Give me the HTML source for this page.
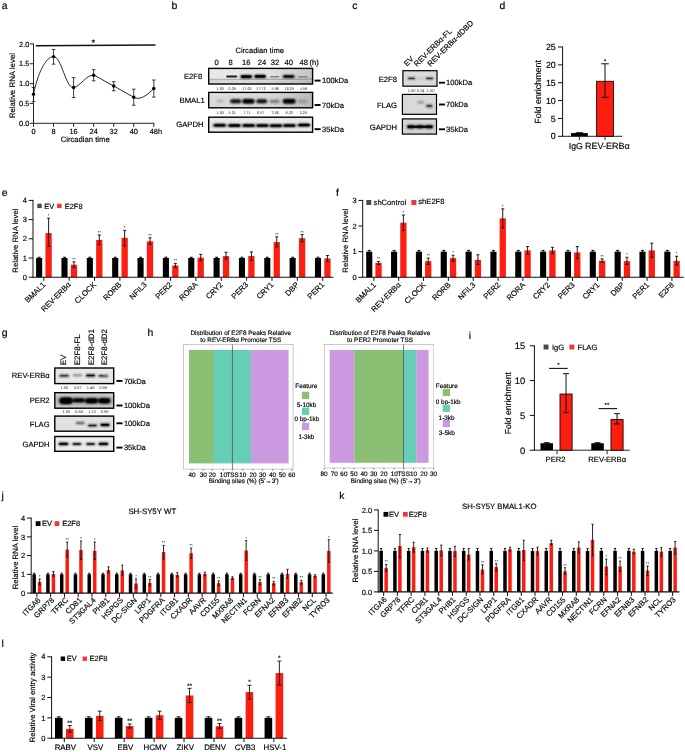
<!DOCTYPE html>
<html><head><meta charset="utf-8"><title>Figure</title>
<style>html,body{margin:0;padding:0;background:#fff}svg{display:block;opacity:0.999}text{font-family:"Liberation Sans",sans-serif}</style>
</head><body>
<svg width="685" height="752" viewBox="0 0 685 752" font-family="'Liberation Sans', sans-serif" text-rendering="geometricPrecision">
<defs>
<filter id="bl1" x="-30%" y="-400%" width="160%" height="900%"><feGaussianBlur stdDeviation="0.6"/></filter>
<filter id="bl2" x="-30%" y="-400%" width="160%" height="900%"><feGaussianBlur stdDeviation="0.85"/></filter>
<filter id="bl3" x="-30%" y="-400%" width="160%" height="900%"><feGaussianBlur stdDeviation="1.15"/></filter>
<filter id="bl4" x="-30%" y="-400%" width="160%" height="900%"><feGaussianBlur stdDeviation="1.8"/></filter>
<linearGradient id="gr1" x1="0" x2="1" y1="0" y2="0"><stop offset="0" stop-color="#000" stop-opacity="0"/><stop offset="0.55" stop-color="#000" stop-opacity="0.02"/><stop offset="1" stop-color="#000" stop-opacity="0.16"/></linearGradient>
</defs>
<rect x="0" y="0" width="685" height="752" fill="#fff"/>
<text x="1.7" y="8.9" font-size="10.4" text-anchor="start" fill="#000" stroke="#000" stroke-width="0.16">a</text>
<text x="171.5" y="8.7" font-size="10.4" text-anchor="start" fill="#000" stroke="#000" stroke-width="0.16">b</text>
<text x="352.3" y="8.8" font-size="10.4" text-anchor="start" fill="#000" stroke="#000" stroke-width="0.16">c</text>
<text x="499.6" y="8.8" font-size="10.4" text-anchor="start" fill="#000" stroke="#000" stroke-width="0.16">d</text>
<text x="1.75" y="195.7" font-size="10.4" text-anchor="start" fill="#000" stroke="#000" stroke-width="0.16">e</text>
<text x="335.9" y="195.6" font-size="10.4" text-anchor="start" fill="#000" stroke="#000" stroke-width="0.16">f</text>
<text x="1.75" y="336.2" font-size="10.4" text-anchor="start" fill="#000" stroke="#000" stroke-width="0.16">g</text>
<text x="147.4" y="336.2" font-size="10.4" text-anchor="start" fill="#000" stroke="#000" stroke-width="0.16">h</text>
<text x="468.7" y="339" font-size="10.4" text-anchor="start" fill="#000" stroke="#000" stroke-width="0.16">i</text>
<text x="1.6" y="498.9" font-size="10.4" text-anchor="start" fill="#000" stroke="#000" stroke-width="0.16">j</text>
<text x="339.3" y="498.9" font-size="10.4" text-anchor="start" fill="#000" stroke="#000" stroke-width="0.16">k</text>
<text x="1.45" y="647" font-size="10.4" text-anchor="start" fill="#000" stroke="#000" stroke-width="0.16">l</text>
<line x1="33.5" y1="43.4" x2="33.5" y2="123.8" stroke="#262626" stroke-width="1"/>
<line x1="29.9" y1="123.3" x2="33.5" y2="123.3" stroke="#262626" stroke-width="1"/>
<text x="29.4" y="125.95" font-size="7.4" text-anchor="end" fill="#000" stroke="#000" stroke-width="0.16">0.0</text>
<line x1="29.9" y1="103.45" x2="33.5" y2="103.45" stroke="#262626" stroke-width="1"/>
<text x="29.4" y="106.1" font-size="7.4" text-anchor="end" fill="#000" stroke="#000" stroke-width="0.16">0.5</text>
<line x1="29.9" y1="83.6" x2="33.5" y2="83.6" stroke="#262626" stroke-width="1"/>
<text x="29.4" y="86.25" font-size="7.4" text-anchor="end" fill="#000" stroke="#000" stroke-width="0.16">1.0</text>
<line x1="29.9" y1="63.75" x2="33.5" y2="63.75" stroke="#262626" stroke-width="1"/>
<text x="29.4" y="66.4" font-size="7.4" text-anchor="end" fill="#000" stroke="#000" stroke-width="0.16">1.5</text>
<line x1="29.9" y1="43.9" x2="33.5" y2="43.9" stroke="#262626" stroke-width="1"/>
<text x="29.4" y="46.55" font-size="7.4" text-anchor="end" fill="#000" stroke="#000" stroke-width="0.16">2.0</text>
<line x1="33" y1="123.3" x2="154.4" y2="123.3" stroke="#262626" stroke-width="1"/>
<line x1="33.5" y1="123.3" x2="33.5" y2="126.9" stroke="#262626" stroke-width="1"/>
<text x="33.5" y="134" font-size="7.4" text-anchor="middle" fill="#000" stroke="#000" stroke-width="0.16">0</text>
<line x1="53.55" y1="123.3" x2="53.55" y2="126.9" stroke="#262626" stroke-width="1"/>
<text x="53.55" y="134" font-size="7.4" text-anchor="middle" fill="#000" stroke="#000" stroke-width="0.16">8</text>
<line x1="73.6" y1="123.3" x2="73.6" y2="126.9" stroke="#262626" stroke-width="1"/>
<text x="73.6" y="134" font-size="7.4" text-anchor="middle" fill="#000" stroke="#000" stroke-width="0.16">16</text>
<line x1="93.65" y1="123.3" x2="93.65" y2="126.9" stroke="#262626" stroke-width="1"/>
<text x="93.65" y="134" font-size="7.4" text-anchor="middle" fill="#000" stroke="#000" stroke-width="0.16">24</text>
<line x1="113.7" y1="123.3" x2="113.7" y2="126.9" stroke="#262626" stroke-width="1"/>
<text x="113.7" y="134" font-size="7.4" text-anchor="middle" fill="#000" stroke="#000" stroke-width="0.16">32</text>
<line x1="133.75" y1="123.3" x2="133.75" y2="126.9" stroke="#262626" stroke-width="1"/>
<text x="133.75" y="134" font-size="7.4" text-anchor="middle" fill="#000" stroke="#000" stroke-width="0.16">40</text>
<line x1="153.8" y1="123.3" x2="153.8" y2="126.9" stroke="#262626" stroke-width="1"/>
<text x="149.68" y="134" font-size="7.4" text-anchor="start" fill="#000" stroke="#000" stroke-width="0.16">48h</text>
<text x="85.2" y="142" font-size="7.7" text-anchor="middle" fill="#000" stroke="#000" stroke-width="0.16">Circadian time</text>
<text x="15.14" y="85.6" font-size="7.9" text-anchor="middle" fill="#000" transform="rotate(-90 15.14 85.6)" stroke="#000" stroke-width="0.16">Relative RNA level</text>
<path d="M33.5 94.32 C37.5 74.32 45.55 56.6 53.55 56.6 C61.55 56.6 65.6 88.07 73.6 87.57 C79.6 87.07 86.65 74.26 93.65 75.26 C96.65 75.86 99.65 78.66 113.7 85.98 L133.75 97.3 C139.75 100.7 146.8 95.56 153.8 88.56" fill="none" stroke="#111" stroke-width="0.9"/>
<line x1="33.5" y1="87.57" x2="33.5" y2="101.46" stroke="#111" stroke-width="0.8"/>
<line x1="31.7" y1="87.57" x2="35.3" y2="87.57" stroke="#111" stroke-width="0.8"/>
<line x1="31.7" y1="101.46" x2="35.3" y2="101.46" stroke="#111" stroke-width="0.8"/>
<circle cx="33.5" cy="94.32" r="1.7" fill="#000"/>
<line x1="53.55" y1="49.46" x2="53.55" y2="64.15" stroke="#111" stroke-width="0.8"/>
<line x1="51.75" y1="49.46" x2="55.35" y2="49.46" stroke="#111" stroke-width="0.8"/>
<line x1="51.75" y1="64.15" x2="55.35" y2="64.15" stroke="#111" stroke-width="0.8"/>
<circle cx="53.55" cy="56.6" r="1.7" fill="#000"/>
<line x1="73.6" y1="77.64" x2="73.6" y2="97.49" stroke="#111" stroke-width="0.8"/>
<line x1="71.8" y1="77.64" x2="75.4" y2="77.64" stroke="#111" stroke-width="0.8"/>
<line x1="71.8" y1="97.49" x2="75.4" y2="97.49" stroke="#111" stroke-width="0.8"/>
<circle cx="73.6" cy="87.57" r="1.7" fill="#000"/>
<line x1="93.65" y1="69.7" x2="93.65" y2="80.82" stroke="#111" stroke-width="0.8"/>
<line x1="91.85" y1="69.7" x2="95.45" y2="69.7" stroke="#111" stroke-width="0.8"/>
<line x1="91.85" y1="80.82" x2="95.45" y2="80.82" stroke="#111" stroke-width="0.8"/>
<circle cx="93.65" cy="75.26" r="1.7" fill="#000"/>
<line x1="113.7" y1="81.61" x2="113.7" y2="90.75" stroke="#111" stroke-width="0.8"/>
<line x1="111.9" y1="81.61" x2="115.5" y2="81.61" stroke="#111" stroke-width="0.8"/>
<line x1="111.9" y1="90.75" x2="115.5" y2="90.75" stroke="#111" stroke-width="0.8"/>
<circle cx="113.7" cy="85.98" r="1.7" fill="#000"/>
<line x1="133.75" y1="89.16" x2="133.75" y2="105.24" stroke="#111" stroke-width="0.8"/>
<line x1="131.95" y1="89.16" x2="135.55" y2="89.16" stroke="#111" stroke-width="0.8"/>
<line x1="131.95" y1="105.24" x2="135.55" y2="105.24" stroke="#111" stroke-width="0.8"/>
<circle cx="133.75" cy="97.3" r="1.7" fill="#000"/>
<line x1="153.8" y1="80.03" x2="153.8" y2="97.1" stroke="#111" stroke-width="0.8"/>
<line x1="152" y1="80.03" x2="155.6" y2="80.03" stroke="#111" stroke-width="0.8"/>
<line x1="152" y1="97.1" x2="155.6" y2="97.1" stroke="#111" stroke-width="0.8"/>
<circle cx="153.8" cy="88.56" r="1.7" fill="#000"/>
<line x1="35.8" y1="45.8" x2="155.5" y2="45.05" stroke="#111" stroke-width="1.4"/>
<text x="93.4" y="46" font-size="9.5" text-anchor="middle" fill="#000" stroke="#000" stroke-width="0.16">*</text>
<text x="259.7" y="53" font-size="7.6" text-anchor="middle" fill="#000" stroke="#000" stroke-width="0.16">Circadian time</text>
<text x="216.5" y="65.2" font-size="7.6" text-anchor="middle" fill="#000" stroke="#000" stroke-width="0.16">0</text>
<text x="230.5" y="65.2" font-size="7.6" text-anchor="middle" fill="#000" stroke="#000" stroke-width="0.16">8</text>
<text x="246.3" y="65.2" font-size="7.6" text-anchor="middle" fill="#000" stroke="#000" stroke-width="0.16">16</text>
<text x="262" y="65.2" font-size="7.6" text-anchor="middle" fill="#000" stroke="#000" stroke-width="0.16">24</text>
<text x="274.9" y="65.2" font-size="7.6" text-anchor="middle" fill="#000" stroke="#000" stroke-width="0.16">32</text>
<text x="288.7" y="65.2" font-size="7.6" text-anchor="middle" fill="#000" stroke="#000" stroke-width="0.16">40</text>
<text x="303.8" y="65.2" font-size="7.6" text-anchor="middle" fill="#000" stroke="#000" stroke-width="0.16">48</text>
<text x="309.6" y="65.2" font-size="7.6" text-anchor="start" fill="#000" stroke="#000" stroke-width="0.16">(h)</text>
<clipPath id="cpb1"><rect x="208.7" y="68.4" width="103.9" height="15.6"/></clipPath>
<rect x="208.7" y="68.4" width="103.9" height="15.6" fill="#e8e8e8"/>
<g clip-path="url(#cpb1)">
<rect x="206" y="78.7" width="110" height="1.2" fill="#000" opacity="0.26" filter="url(#bl1)" transform="rotate(-0.25 260 79)"/>
<rect x="206" y="80.5" width="110" height="5" fill="#000" opacity="0.07" filter="url(#bl2)"/>
<rect x="208" y="66" width="106" height="20" fill="url(#gr1)"/>
<rect x="226.2" y="75.55" width="11" height="1.9" rx="0.95" fill="#000" opacity="0.88" filter="url(#bl1)"/>
<rect x="240.3" y="74.9" width="12" height="3.4" rx="1.7" fill="#000" opacity="1" filter="url(#bl2)"/>
<rect x="241.1" y="75.5" width="10.4" height="2.2" rx="1.1" fill="#000" opacity="1" filter="url(#bl1)"/>
<rect x="254.2" y="74.7" width="12" height="3.4" rx="1.7" fill="#000" opacity="1" filter="url(#bl2)"/>
<rect x="255" y="75.3" width="10.4" height="2.2" rx="1.1" fill="#000" opacity="1" filter="url(#bl1)"/>
<rect x="269.8" y="76.1" width="9.6" height="1.4" rx="0.7" fill="#000" opacity="0.42" filter="url(#bl1)"/>
<rect x="282.7" y="75.1" width="12" height="2.8" rx="1.4" fill="#000" opacity="1" filter="url(#bl2)"/>
<rect x="283.7" y="75.7" width="10" height="1.6" rx="0.8" fill="#000" opacity="0.9" filter="url(#bl1)"/>
<rect x="297.8" y="76" width="10" height="1.4" rx="0.7" fill="#000" opacity="0.34" filter="url(#bl1)"/>
</g>
<rect x="208.7" y="68.4" width="103.9" height="15.6" fill="none" stroke="#000" stroke-width="1.4"/>
<text x="220.3" y="90.2" font-size="3.8" text-anchor="middle" fill="#2a2a2a">1.00</text>
<text x="232.3" y="90.2" font-size="3.8" text-anchor="middle" fill="#2a2a2a">0.29</text>
<text x="246.9" y="90.2" font-size="3.8" text-anchor="middle" fill="#2a2a2a">17.62</text>
<text x="260.8" y="90.2" font-size="3.8" text-anchor="middle" fill="#2a2a2a">17.72</text>
<text x="275.2" y="90.2" font-size="3.8" text-anchor="middle" fill="#2a2a2a">5.88</text>
<text x="289.3" y="90.2" font-size="3.8" text-anchor="middle" fill="#2a2a2a">16.25</text>
<text x="303.4" y="90.2" font-size="3.8" text-anchor="middle" fill="#2a2a2a">4.58</text>
<clipPath id="cpb2"><rect x="208.7" y="92.4" width="103.9" height="15.4"/></clipPath>
<rect x="208.7" y="92.4" width="103.9" height="15.4" fill="#dadada"/>
<g clip-path="url(#cpb2)">
<rect x="206" y="90" width="110" height="5.5" fill="#fff" opacity="0.25" filter="url(#bl3)"/>
<rect x="208" y="90" width="106" height="20" fill="url(#gr1)"/>
<rect x="215.9" y="99.6" width="7.6" height="2.8" rx="1.4" fill="#000" opacity="0.18" filter="url(#bl3)"/>
<rect x="230.1" y="99.3" width="11.2" height="4" rx="2" fill="#000" opacity="0.9" filter="url(#bl3)"/>
<rect x="231.1" y="100.3" width="9.2" height="2" rx="1" fill="#000" opacity="0.6" filter="url(#bl2)"/>
<rect x="242.3" y="99" width="12.2" height="4.6" rx="2.3" fill="#000" opacity="1" filter="url(#bl3)"/>
<rect x="243.2" y="99.9" width="10.4" height="2.8" rx="1.4" fill="#000" opacity="0.9" filter="url(#bl2)"/>
<rect x="256.2" y="99.2" width="11" height="4" rx="2" fill="#000" opacity="0.9" filter="url(#bl3)"/>
<rect x="257.2" y="100.2" width="9" height="2" rx="1" fill="#000" opacity="0.6" filter="url(#bl2)"/>
<rect x="269.6" y="99.8" width="10" height="3.2" rx="1.6" fill="#000" opacity="0.42" filter="url(#bl3)"/>
<rect x="282.8" y="99" width="12.8" height="4.6" rx="2.3" fill="#000" opacity="1" filter="url(#bl3)"/>
<rect x="283.8" y="99.9" width="10.8" height="2.8" rx="1.4" fill="#000" opacity="0.9" filter="url(#bl2)"/>
<rect x="298.2" y="100" width="9.2" height="2.8" rx="1.4" fill="#000" opacity="0.25" filter="url(#bl3)"/>
</g>
<rect x="208.7" y="92.4" width="103.9" height="15.4" fill="none" stroke="#000" stroke-width="1.4"/>
<text x="220.3" y="114.4" font-size="3.8" text-anchor="middle" fill="#2a2a2a">1.00</text>
<text x="232.3" y="114.4" font-size="3.8" text-anchor="middle" fill="#2a2a2a">5.21</text>
<text x="246.9" y="114.4" font-size="3.8" text-anchor="middle" fill="#2a2a2a">7.71</text>
<text x="260.8" y="114.4" font-size="3.8" text-anchor="middle" fill="#2a2a2a">6.57</text>
<text x="275.2" y="114.4" font-size="3.8" text-anchor="middle" fill="#2a2a2a">3.66</text>
<text x="289.3" y="114.4" font-size="3.8" text-anchor="middle" fill="#2a2a2a">8.23</text>
<text x="303.4" y="114.4" font-size="3.8" text-anchor="middle" fill="#2a2a2a">2.25</text>
<clipPath id="cpb3"><rect x="208.7" y="117.2" width="103.9" height="15"/></clipPath>
<rect x="208.7" y="117.2" width="103.9" height="15" fill="#e8e8e8"/>
<g clip-path="url(#cpb3)">
<rect x="213.4" y="123.8" width="12.6" height="3" rx="1.5" fill="#000" opacity="1" filter="url(#bl2)"/>
<rect x="228.1" y="124" width="12.6" height="3" rx="1.5" fill="#000" opacity="1" filter="url(#bl2)"/>
<rect x="242.4" y="124" width="12.6" height="3" rx="1.5" fill="#000" opacity="1" filter="url(#bl2)"/>
<rect x="256.1" y="124.1" width="12.6" height="3" rx="1.5" fill="#000" opacity="1" filter="url(#bl2)"/>
<rect x="269.7" y="124.2" width="12.6" height="3" rx="1.5" fill="#000" opacity="1" filter="url(#bl2)"/>
<rect x="283.1" y="124.1" width="12.6" height="3" rx="1.5" fill="#000" opacity="1" filter="url(#bl2)"/>
<rect x="297.8" y="123.5" width="12.6" height="3" rx="1.5" fill="#000" opacity="1" filter="url(#bl2)"/>
<rect x="214.3" y="124.4" width="10.8" height="1.8" rx="0.9" fill="#000" opacity="0.9" filter="url(#bl1)"/>
<rect x="229" y="124.6" width="10.8" height="1.8" rx="0.9" fill="#000" opacity="0.9" filter="url(#bl1)"/>
<rect x="243.3" y="124.6" width="10.8" height="1.8" rx="0.9" fill="#000" opacity="0.9" filter="url(#bl1)"/>
<rect x="257" y="124.7" width="10.8" height="1.8" rx="0.9" fill="#000" opacity="0.9" filter="url(#bl1)"/>
<rect x="270.6" y="124.8" width="10.8" height="1.8" rx="0.9" fill="#000" opacity="0.9" filter="url(#bl1)"/>
<rect x="284" y="124.7" width="10.8" height="1.8" rx="0.9" fill="#000" opacity="0.9" filter="url(#bl1)"/>
<rect x="298.7" y="124.1" width="10.8" height="1.8" rx="0.9" fill="#000" opacity="0.9" filter="url(#bl1)"/>
<rect x="212" y="125.1" width="96" height="1" rx="0.5" fill="#000" opacity="0.5" filter="url(#bl2)"/>
</g>
<rect x="208.7" y="117.2" width="103.9" height="15" fill="none" stroke="#000" stroke-width="1.4"/>
<line x1="314.6" y1="80.6" x2="320.6" y2="80.6" stroke="#000" stroke-width="1.9"/>
<text x="321.9" y="83.34" font-size="7.65" text-anchor="start" fill="#000" stroke="#000" stroke-width="0.16">100kDa</text>
<line x1="314.6" y1="105" x2="320.6" y2="105" stroke="#000" stroke-width="1.9"/>
<text x="321.9" y="107.74" font-size="7.65" text-anchor="start" fill="#000" stroke="#000" stroke-width="0.16">70kDa</text>
<line x1="314.6" y1="129.2" x2="320.6" y2="129.2" stroke="#000" stroke-width="1.9"/>
<text x="321.9" y="131.94" font-size="7.65" text-anchor="start" fill="#000" stroke="#000" stroke-width="0.16">35kDa</text>
<text x="202.3" y="78.5" font-size="7.7" text-anchor="end" fill="#000" stroke="#000" stroke-width="0.16">E2F8</text>
<text x="204.8" y="103" font-size="7.7" text-anchor="end" fill="#000" stroke="#000" stroke-width="0.16">BMAL1</text>
<text x="203.5" y="127.2" font-size="7.7" text-anchor="end" fill="#000" stroke="#000" stroke-width="0.16">GAPDH</text>
<clipPath id="cpc1"><rect x="402.9" y="70.7" width="34.1" height="15.5"/></clipPath>
<rect x="402.9" y="70.7" width="34.1" height="15.5" fill="#d7d7d7"/>
<g clip-path="url(#cpc1)">
<rect x="405" y="72" width="30" height="12" fill="#fff" opacity="0.12" filter="url(#bl4)"/>
<rect x="407.6" y="77.45" width="7.8" height="1.9" rx="0.95" fill="#000" opacity="0.85" filter="url(#bl2)"/>
<rect x="408.3" y="77.9" width="6.4" height="1" rx="0.5" fill="#000" opacity="0.6" filter="url(#bl1)"/>
<rect x="417.3" y="78" width="6.4" height="1.2" rx="0.6" fill="#000" opacity="0.2" filter="url(#bl2)"/>
<rect x="425.7" y="77.45" width="7.8" height="1.9" rx="0.95" fill="#000" opacity="0.85" filter="url(#bl2)"/>
<rect x="426.4" y="77.9" width="6.4" height="1" rx="0.5" fill="#000" opacity="0.6" filter="url(#bl1)"/>
</g>
<rect x="402.9" y="70.7" width="34.1" height="15.5" fill="none" stroke="#000" stroke-width="1.2"/>
<text x="411.6" y="91.7" font-size="4" text-anchor="middle" fill="#2a2a2a">1.00</text>
<text x="420.7" y="91.7" font-size="4" text-anchor="middle" fill="#2a2a2a">0.24</text>
<text x="430.5" y="91.7" font-size="4" text-anchor="middle" fill="#2a2a2a">1.00</text>
<clipPath id="cpc2"><rect x="402.4" y="94.4" width="34.1" height="19.9"/></clipPath>
<rect x="402.4" y="94.4" width="34.1" height="19.9" fill="#d9d9d9"/>
<g clip-path="url(#cpc2)">
<rect x="417.3" y="101.7" width="6.8" height="1.4" rx="0.7" fill="#000" opacity="0.62" filter="url(#bl2)"/>
<rect x="425.8" y="104.4" width="7" height="3" rx="1.5" fill="#000" opacity="0.62" filter="url(#bl2)"/>
<rect x="426.5" y="105.1" width="5.6" height="1.6" rx="0.8" fill="#000" opacity="0.35" filter="url(#bl1)"/>
</g>
<rect x="402.4" y="94.4" width="34.1" height="19.9" fill="none" stroke="#000" stroke-width="1.2"/>
<clipPath id="cpc3"><rect x="402.4" y="118.9" width="34.1" height="15.2"/></clipPath>
<rect x="402.4" y="118.9" width="34.1" height="15.2" fill="#d2d2d2"/>
<g clip-path="url(#cpc3)">
<rect x="406.8" y="125.1" width="8.6" height="3.4" rx="1.7" fill="#000" opacity="1" filter="url(#bl2)"/>
<rect x="416" y="125.1" width="8.2" height="3.4" rx="1.7" fill="#000" opacity="1" filter="url(#bl2)"/>
<rect x="424.7" y="125.1" width="8.6" height="3.4" rx="1.7" fill="#000" opacity="1" filter="url(#bl2)"/>
<rect x="407.5" y="125.8" width="25" height="2" rx="1" fill="#000" opacity="1" filter="url(#bl1)"/>
</g>
<rect x="402.4" y="118.9" width="34.1" height="15.2" fill="none" stroke="#000" stroke-width="1.2"/>
<line x1="439" y1="82.7" x2="445" y2="82.7" stroke="#000" stroke-width="1.9"/>
<text x="446" y="85.42" font-size="7.6" text-anchor="start" fill="#000" stroke="#000" stroke-width="0.16">100kDa</text>
<line x1="439" y1="104.5" x2="445" y2="104.5" stroke="#000" stroke-width="1.9"/>
<text x="446" y="107.22" font-size="7.6" text-anchor="start" fill="#000" stroke="#000" stroke-width="0.16">70kDa</text>
<line x1="439" y1="129.3" x2="445" y2="129.3" stroke="#000" stroke-width="1.9"/>
<text x="446" y="132.02" font-size="7.6" text-anchor="start" fill="#000" stroke="#000" stroke-width="0.16">35kDa</text>
<text x="397" y="81.9" font-size="7.7" text-anchor="end" fill="#000" stroke="#000" stroke-width="0.16">E2F8</text>
<text x="397" y="108" font-size="7.7" text-anchor="end" fill="#000" stroke="#000" stroke-width="0.16">FLAG</text>
<text x="397" y="130.4" font-size="7.7" text-anchor="end" fill="#000" stroke="#000" stroke-width="0.16">GAPDH</text>
<text x="407" y="66.7" font-size="7.7" text-anchor="start" fill="#000" transform="rotate(-45 407 66.7)" stroke="#000" stroke-width="0.16">EV</text>
<text x="417" y="67" font-size="7.7" text-anchor="start" fill="#000" transform="rotate(-45 417 67)" stroke="#000" stroke-width="0.16">REV-ERBα-FL</text>
<text x="430.5" y="67" font-size="7.7" text-anchor="start" fill="#000" transform="rotate(-45 430.5 67)" stroke="#000" stroke-width="0.16">REV-ERBα-dDBD</text>
<line x1="562.6" y1="46.5" x2="562.6" y2="136.8" stroke="#101010" stroke-width="1"/>
<line x1="558" y1="136.3" x2="562.6" y2="136.3" stroke="#101010" stroke-width="1"/>
<text x="555.8" y="139.49" font-size="8.9" text-anchor="end" fill="#000" stroke="#000" stroke-width="0.16">0</text>
<line x1="558" y1="118.44" x2="562.6" y2="118.44" stroke="#101010" stroke-width="1"/>
<text x="555.8" y="121.63" font-size="8.9" text-anchor="end" fill="#000" stroke="#000" stroke-width="0.16">5</text>
<line x1="558" y1="100.58" x2="562.6" y2="100.58" stroke="#101010" stroke-width="1"/>
<text x="555.8" y="103.77" font-size="8.9" text-anchor="end" fill="#000" stroke="#000" stroke-width="0.16">10</text>
<line x1="558" y1="82.72" x2="562.6" y2="82.72" stroke="#101010" stroke-width="1"/>
<text x="555.8" y="85.91" font-size="8.9" text-anchor="end" fill="#000" stroke="#000" stroke-width="0.16">15</text>
<line x1="558" y1="64.86" x2="562.6" y2="64.86" stroke="#101010" stroke-width="1"/>
<text x="555.8" y="68.05" font-size="8.9" text-anchor="end" fill="#000" stroke="#000" stroke-width="0.16">20</text>
<line x1="558" y1="47" x2="562.6" y2="47" stroke="#101010" stroke-width="1"/>
<text x="555.8" y="50.19" font-size="8.9" text-anchor="end" fill="#000" stroke="#000" stroke-width="0.16">25</text>
<line x1="562.1" y1="136.3" x2="622.4" y2="136.3" stroke="#262626" stroke-width="1"/>
<rect x="571" y="133.09" width="16.8" height="3.21" fill="#000"/>
<line x1="579.4" y1="132.55" x2="579.4" y2="133.51" stroke="#000" stroke-width="0.8"/>
<line x1="575.65" y1="132.55" x2="583.15" y2="132.55" stroke="#000" stroke-width="0.8"/>
<line x1="575.65" y1="133.51" x2="583.15" y2="133.51" stroke="#000" stroke-width="0.8"/>
<rect x="596.6" y="81.29" width="16.8" height="55.01" fill="#fc1e10" stroke="#200" stroke-width="0.9"/>
<line x1="605" y1="63.79" x2="605" y2="97.37" stroke="#111" stroke-width="1"/>
<line x1="601.2" y1="63.79" x2="608.8" y2="63.79" stroke="#111" stroke-width="1"/>
<line x1="601.2" y1="97.37" x2="608.8" y2="97.37" stroke="#111" stroke-width="1"/>
<text x="605" y="62.5" font-size="5.5" text-anchor="middle" fill="#000" stroke="#000" stroke-width="0.16">*</text>
<line x1="579.4" y1="136.3" x2="579.4" y2="139.9" stroke="#262626" stroke-width="1"/>
<line x1="605" y1="136.3" x2="605" y2="139.9" stroke="#262626" stroke-width="1"/>
<text x="575.8" y="149.2" font-size="8.7" text-anchor="middle" fill="#000" stroke="#000" stroke-width="0.16">IgG</text>
<text x="607.4" y="149.2" font-size="9" text-anchor="middle" fill="#000" stroke="#000" stroke-width="0.16">REV-ERBα</text>
<text x="541" y="91.9" font-size="8.9" text-anchor="middle" fill="#000" transform="rotate(-90 541 91.9)" stroke="#000" stroke-width="0.16">Fold enrichment</text>
<line x1="33" y1="199.9" x2="33" y2="277.7" stroke="#101010" stroke-width="1"/>
<line x1="28.7" y1="277.2" x2="33" y2="277.2" stroke="#101010" stroke-width="1"/>
<text x="26.9" y="279.88" font-size="7.5" text-anchor="end" fill="#000" stroke="#000" stroke-width="0.16">0</text>
<line x1="28.7" y1="258" x2="33" y2="258" stroke="#101010" stroke-width="1"/>
<text x="26.9" y="260.69" font-size="7.5" text-anchor="end" fill="#000" stroke="#000" stroke-width="0.16">1</text>
<line x1="28.7" y1="238.8" x2="33" y2="238.8" stroke="#101010" stroke-width="1"/>
<text x="26.9" y="241.48" font-size="7.5" text-anchor="end" fill="#000" stroke="#000" stroke-width="0.16">2</text>
<line x1="28.7" y1="219.6" x2="33" y2="219.6" stroke="#101010" stroke-width="1"/>
<text x="26.9" y="222.28" font-size="7.5" text-anchor="end" fill="#000" stroke="#000" stroke-width="0.16">3</text>
<line x1="28.7" y1="200.4" x2="33" y2="200.4" stroke="#101010" stroke-width="1"/>
<text x="26.9" y="203.08" font-size="7.5" text-anchor="end" fill="#000" stroke="#000" stroke-width="0.16">4</text>
<text x="18.29" y="240.6" font-size="7.75" text-anchor="middle" fill="#000" transform="rotate(-90 18.29 240.6)" stroke="#000" stroke-width="0.16">Relative RNA level</text>
<rect x="36.1" y="258" width="6.1" height="19.2" fill="#000"/>
<line x1="39.15" y1="257.23" x2="39.15" y2="258.77" stroke="#000" stroke-width="0.95"/>
<line x1="37.65" y1="257.23" x2="40.65" y2="257.23" stroke="#000" stroke-width="0.95"/>
<line x1="37.65" y1="258.77" x2="40.65" y2="258.77" stroke="#000" stroke-width="0.95"/>
<rect x="45.45" y="233.04" width="6.3" height="44.16" fill="#fc1e10"/>
<line x1="48.6" y1="218.26" x2="48.6" y2="246.48" stroke="#111" stroke-width="0.95"/>
<line x1="47.1" y1="218.26" x2="50.1" y2="218.26" stroke="#111" stroke-width="0.95"/>
<line x1="47.1" y1="246.48" x2="50.1" y2="246.48" stroke="#111" stroke-width="0.95"/>
<text x="48.6" y="217.32" font-size="4.6" text-anchor="middle" fill="#222">*</text>
<line x1="43.83" y1="277.2" x2="43.83" y2="280.8" stroke="#101010" stroke-width="1"/>
<text x="45.93" y="285.2" font-size="7.7" text-anchor="end" fill="#000" transform="rotate(-45 45.93 285.2)" stroke="#000" stroke-width="0.16">BMAL1</text>
<rect x="61.45" y="258" width="6.1" height="19.2" fill="#000"/>
<line x1="64.5" y1="257.23" x2="64.5" y2="258.77" stroke="#000" stroke-width="0.95"/>
<line x1="63" y1="257.23" x2="66" y2="257.23" stroke="#000" stroke-width="0.95"/>
<line x1="63" y1="258.77" x2="66" y2="258.77" stroke="#000" stroke-width="0.95"/>
<rect x="70.8" y="264.72" width="6.3" height="12.48" fill="#fc1e10"/>
<line x1="73.95" y1="261.84" x2="73.95" y2="267.6" stroke="#111" stroke-width="0.95"/>
<line x1="72.45" y1="261.84" x2="75.45" y2="261.84" stroke="#111" stroke-width="0.95"/>
<line x1="72.45" y1="267.6" x2="75.45" y2="267.6" stroke="#111" stroke-width="0.95"/>
<text x="73.95" y="260.91" font-size="4.6" text-anchor="middle" fill="#222">**</text>
<line x1="69.17" y1="277.2" x2="69.17" y2="280.8" stroke="#101010" stroke-width="1"/>
<text x="71.27" y="285.2" font-size="7.7" text-anchor="end" fill="#000" transform="rotate(-45 71.27 285.2)" stroke="#000" stroke-width="0.16">REV-ERBα</text>
<rect x="86.8" y="258" width="6.1" height="19.2" fill="#000"/>
<line x1="89.85" y1="257.23" x2="89.85" y2="258.77" stroke="#000" stroke-width="0.95"/>
<line x1="88.35" y1="257.23" x2="91.35" y2="257.23" stroke="#000" stroke-width="0.95"/>
<line x1="88.35" y1="258.77" x2="91.35" y2="258.77" stroke="#000" stroke-width="0.95"/>
<rect x="96.15" y="239.95" width="6.3" height="37.25" fill="#fc1e10"/>
<line x1="99.3" y1="234.96" x2="99.3" y2="244.56" stroke="#111" stroke-width="0.95"/>
<line x1="97.8" y1="234.96" x2="100.8" y2="234.96" stroke="#111" stroke-width="0.95"/>
<line x1="97.8" y1="244.56" x2="100.8" y2="244.56" stroke="#111" stroke-width="0.95"/>
<text x="99.3" y="234.03" font-size="4.6" text-anchor="middle" fill="#222">**</text>
<line x1="94.53" y1="277.2" x2="94.53" y2="280.8" stroke="#101010" stroke-width="1"/>
<text x="96.62" y="285.2" font-size="7.7" text-anchor="end" fill="#000" transform="rotate(-45 96.62 285.2)" stroke="#000" stroke-width="0.16">CLOCK</text>
<rect x="112.15" y="258" width="6.1" height="19.2" fill="#000"/>
<line x1="115.2" y1="257.23" x2="115.2" y2="258.77" stroke="#000" stroke-width="0.95"/>
<line x1="113.7" y1="257.23" x2="116.7" y2="257.23" stroke="#000" stroke-width="0.95"/>
<line x1="113.7" y1="258.77" x2="116.7" y2="258.77" stroke="#000" stroke-width="0.95"/>
<rect x="121.5" y="237.84" width="6.3" height="39.36" fill="#fc1e10"/>
<line x1="124.65" y1="230.35" x2="124.65" y2="245.9" stroke="#111" stroke-width="0.95"/>
<line x1="123.15" y1="230.35" x2="126.15" y2="230.35" stroke="#111" stroke-width="0.95"/>
<line x1="123.15" y1="245.9" x2="126.15" y2="245.9" stroke="#111" stroke-width="0.95"/>
<text x="124.65" y="229.42" font-size="4.6" text-anchor="middle" fill="#222">*</text>
<line x1="119.88" y1="277.2" x2="119.88" y2="280.8" stroke="#101010" stroke-width="1"/>
<text x="121.97" y="285.2" font-size="7.7" text-anchor="end" fill="#000" transform="rotate(-45 121.97 285.2)" stroke="#000" stroke-width="0.16">RORB</text>
<rect x="137.5" y="258" width="6.1" height="19.2" fill="#000"/>
<line x1="140.55" y1="257.23" x2="140.55" y2="258.77" stroke="#000" stroke-width="0.95"/>
<line x1="139.05" y1="257.23" x2="142.05" y2="257.23" stroke="#000" stroke-width="0.95"/>
<line x1="139.05" y1="258.77" x2="142.05" y2="258.77" stroke="#000" stroke-width="0.95"/>
<rect x="146.85" y="241.3" width="6.3" height="35.9" fill="#fc1e10"/>
<line x1="150" y1="237.84" x2="150" y2="244.37" stroke="#111" stroke-width="0.95"/>
<line x1="148.5" y1="237.84" x2="151.5" y2="237.84" stroke="#111" stroke-width="0.95"/>
<line x1="148.5" y1="244.37" x2="151.5" y2="244.37" stroke="#111" stroke-width="0.95"/>
<text x="150" y="236.91" font-size="4.6" text-anchor="middle" fill="#222">**</text>
<line x1="145.22" y1="277.2" x2="145.22" y2="280.8" stroke="#101010" stroke-width="1"/>
<text x="147.32" y="285.2" font-size="7.7" text-anchor="end" fill="#000" transform="rotate(-45 147.32 285.2)" stroke="#000" stroke-width="0.16">NFIL3</text>
<rect x="162.85" y="258" width="6.1" height="19.2" fill="#000"/>
<line x1="165.9" y1="257.23" x2="165.9" y2="258.77" stroke="#000" stroke-width="0.95"/>
<line x1="164.4" y1="257.23" x2="167.4" y2="257.23" stroke="#000" stroke-width="0.95"/>
<line x1="164.4" y1="258.77" x2="167.4" y2="258.77" stroke="#000" stroke-width="0.95"/>
<rect x="172.2" y="265.49" width="6.3" height="11.71" fill="#fc1e10"/>
<line x1="175.35" y1="263.38" x2="175.35" y2="267.41" stroke="#111" stroke-width="0.95"/>
<line x1="173.85" y1="263.38" x2="176.85" y2="263.38" stroke="#111" stroke-width="0.95"/>
<line x1="173.85" y1="267.41" x2="176.85" y2="267.41" stroke="#111" stroke-width="0.95"/>
<text x="175.35" y="262.44" font-size="4.6" text-anchor="middle" fill="#222">**</text>
<line x1="170.57" y1="277.2" x2="170.57" y2="280.8" stroke="#101010" stroke-width="1"/>
<text x="172.67" y="285.2" font-size="7.7" text-anchor="end" fill="#000" transform="rotate(-45 172.67 285.2)" stroke="#000" stroke-width="0.16">PER2</text>
<rect x="188.2" y="258" width="6.1" height="19.2" fill="#000"/>
<line x1="191.25" y1="257.23" x2="191.25" y2="258.77" stroke="#000" stroke-width="0.95"/>
<line x1="189.75" y1="257.23" x2="192.75" y2="257.23" stroke="#000" stroke-width="0.95"/>
<line x1="189.75" y1="258.77" x2="192.75" y2="258.77" stroke="#000" stroke-width="0.95"/>
<rect x="197.55" y="257.62" width="6.3" height="19.58" fill="#fc1e10"/>
<line x1="200.7" y1="254.35" x2="200.7" y2="260.69" stroke="#111" stroke-width="0.95"/>
<line x1="199.2" y1="254.35" x2="202.2" y2="254.35" stroke="#111" stroke-width="0.95"/>
<line x1="199.2" y1="260.69" x2="202.2" y2="260.69" stroke="#111" stroke-width="0.95"/>
<line x1="195.93" y1="277.2" x2="195.93" y2="280.8" stroke="#101010" stroke-width="1"/>
<text x="198.03" y="285.2" font-size="7.7" text-anchor="end" fill="#000" transform="rotate(-45 198.03 285.2)" stroke="#000" stroke-width="0.16">RORA</text>
<rect x="213.55" y="258" width="6.1" height="19.2" fill="#000"/>
<line x1="216.6" y1="257.23" x2="216.6" y2="258.77" stroke="#000" stroke-width="0.95"/>
<line x1="215.1" y1="257.23" x2="218.1" y2="257.23" stroke="#000" stroke-width="0.95"/>
<line x1="215.1" y1="258.77" x2="218.1" y2="258.77" stroke="#000" stroke-width="0.95"/>
<rect x="222.9" y="256.08" width="6.3" height="21.12" fill="#fc1e10"/>
<line x1="226.05" y1="252.24" x2="226.05" y2="258.96" stroke="#111" stroke-width="0.95"/>
<line x1="224.55" y1="252.24" x2="227.55" y2="252.24" stroke="#111" stroke-width="0.95"/>
<line x1="224.55" y1="258.96" x2="227.55" y2="258.96" stroke="#111" stroke-width="0.95"/>
<line x1="221.28" y1="277.2" x2="221.28" y2="280.8" stroke="#101010" stroke-width="1"/>
<text x="223.38" y="285.2" font-size="7.7" text-anchor="end" fill="#000" transform="rotate(-45 223.38 285.2)" stroke="#000" stroke-width="0.16">CRY2</text>
<rect x="238.9" y="258" width="6.1" height="19.2" fill="#000"/>
<line x1="241.95" y1="257.23" x2="241.95" y2="258.77" stroke="#000" stroke-width="0.95"/>
<line x1="240.45" y1="257.23" x2="243.45" y2="257.23" stroke="#000" stroke-width="0.95"/>
<line x1="240.45" y1="258.77" x2="243.45" y2="258.77" stroke="#000" stroke-width="0.95"/>
<rect x="248.25" y="256.08" width="6.3" height="21.12" fill="#fc1e10"/>
<line x1="251.4" y1="251.86" x2="251.4" y2="260.3" stroke="#111" stroke-width="0.95"/>
<line x1="249.9" y1="251.86" x2="252.9" y2="251.86" stroke="#111" stroke-width="0.95"/>
<line x1="249.9" y1="260.3" x2="252.9" y2="260.3" stroke="#111" stroke-width="0.95"/>
<line x1="246.62" y1="277.2" x2="246.62" y2="280.8" stroke="#101010" stroke-width="1"/>
<text x="248.72" y="285.2" font-size="7.7" text-anchor="end" fill="#000" transform="rotate(-45 248.72 285.2)" stroke="#000" stroke-width="0.16">PER3</text>
<rect x="264.25" y="258" width="6.1" height="19.2" fill="#000"/>
<line x1="267.3" y1="257.23" x2="267.3" y2="258.77" stroke="#000" stroke-width="0.95"/>
<line x1="265.8" y1="257.23" x2="268.8" y2="257.23" stroke="#000" stroke-width="0.95"/>
<line x1="265.8" y1="258.77" x2="268.8" y2="258.77" stroke="#000" stroke-width="0.95"/>
<rect x="273.6" y="242.06" width="6.3" height="35.14" fill="#fc1e10"/>
<line x1="276.75" y1="236.88" x2="276.75" y2="246.86" stroke="#111" stroke-width="0.95"/>
<line x1="275.25" y1="236.88" x2="278.25" y2="236.88" stroke="#111" stroke-width="0.95"/>
<line x1="275.25" y1="246.86" x2="278.25" y2="246.86" stroke="#111" stroke-width="0.95"/>
<text x="276.75" y="235.95" font-size="4.6" text-anchor="middle" fill="#222">**</text>
<line x1="271.98" y1="277.2" x2="271.98" y2="280.8" stroke="#101010" stroke-width="1"/>
<text x="274.08" y="285.2" font-size="7.7" text-anchor="end" fill="#000" transform="rotate(-45 274.08 285.2)" stroke="#000" stroke-width="0.16">CRY1</text>
<rect x="289.6" y="258" width="6.1" height="19.2" fill="#000"/>
<line x1="292.65" y1="257.23" x2="292.65" y2="258.77" stroke="#000" stroke-width="0.95"/>
<line x1="291.15" y1="257.23" x2="294.15" y2="257.23" stroke="#000" stroke-width="0.95"/>
<line x1="291.15" y1="258.77" x2="294.15" y2="258.77" stroke="#000" stroke-width="0.95"/>
<rect x="298.95" y="238.22" width="6.3" height="38.98" fill="#fc1e10"/>
<line x1="302.1" y1="234.58" x2="302.1" y2="241.68" stroke="#111" stroke-width="0.95"/>
<line x1="300.6" y1="234.58" x2="303.6" y2="234.58" stroke="#111" stroke-width="0.95"/>
<line x1="300.6" y1="241.68" x2="303.6" y2="241.68" stroke="#111" stroke-width="0.95"/>
<text x="302.1" y="233.64" font-size="4.6" text-anchor="middle" fill="#222">**</text>
<line x1="297.33" y1="277.2" x2="297.33" y2="280.8" stroke="#101010" stroke-width="1"/>
<text x="299.43" y="285.2" font-size="7.7" text-anchor="end" fill="#000" transform="rotate(-45 299.43 285.2)" stroke="#000" stroke-width="0.16">DBP</text>
<rect x="314.95" y="258" width="6.1" height="19.2" fill="#000"/>
<line x1="318" y1="257.23" x2="318" y2="258.77" stroke="#000" stroke-width="0.95"/>
<line x1="316.5" y1="257.23" x2="319.5" y2="257.23" stroke="#000" stroke-width="0.95"/>
<line x1="316.5" y1="258.77" x2="319.5" y2="258.77" stroke="#000" stroke-width="0.95"/>
<rect x="324.3" y="258.38" width="6.3" height="18.82" fill="#fc1e10"/>
<line x1="327.45" y1="255.5" x2="327.45" y2="261.46" stroke="#111" stroke-width="0.95"/>
<line x1="325.95" y1="255.5" x2="328.95" y2="255.5" stroke="#111" stroke-width="0.95"/>
<line x1="325.95" y1="261.46" x2="328.95" y2="261.46" stroke="#111" stroke-width="0.95"/>
<line x1="322.68" y1="277.2" x2="322.68" y2="280.8" stroke="#101010" stroke-width="1"/>
<text x="324.78" y="285.2" font-size="7.7" text-anchor="end" fill="#000" transform="rotate(-45 324.78 285.2)" stroke="#000" stroke-width="0.16">PER1</text>
<line x1="32.5" y1="277.2" x2="333.5" y2="277.2" stroke="#101010" stroke-width="1.1"/>
<rect x="37.3" y="203.7" width="4.4" height="4.4" fill="#4a4a4a"/>
<text x="44.2" y="208.59" font-size="7.5" text-anchor="start" fill="#000" stroke="#000" stroke-width="0.16">EV</text>
<rect x="57.1" y="203.7" width="4.4" height="4.4" fill="#f5313a"/>
<text x="64.7" y="208.59" font-size="7.5" text-anchor="start" fill="#000" stroke="#000" stroke-width="0.16">E2F8</text>
<line x1="362.7" y1="199.9" x2="362.7" y2="277.8" stroke="#101010" stroke-width="1"/>
<line x1="358.4" y1="277.3" x2="362.7" y2="277.3" stroke="#101010" stroke-width="1"/>
<text x="356.6" y="279.99" font-size="7.5" text-anchor="end" fill="#000" stroke="#000" stroke-width="0.16">0</text>
<line x1="358.4" y1="251.67" x2="362.7" y2="251.67" stroke="#101010" stroke-width="1"/>
<text x="356.6" y="254.36" font-size="7.5" text-anchor="end" fill="#000" stroke="#000" stroke-width="0.16">1</text>
<line x1="358.4" y1="226.04" x2="362.7" y2="226.04" stroke="#101010" stroke-width="1"/>
<text x="356.6" y="228.73" font-size="7.5" text-anchor="end" fill="#000" stroke="#000" stroke-width="0.16">2</text>
<line x1="358.4" y1="200.41" x2="362.7" y2="200.41" stroke="#101010" stroke-width="1"/>
<text x="356.6" y="203.1" font-size="7.5" text-anchor="end" fill="#000" stroke="#000" stroke-width="0.16">3</text>
<text x="347.79" y="240.6" font-size="7.75" text-anchor="middle" fill="#000" transform="rotate(-90 347.79 240.6)" stroke="#000" stroke-width="0.16">Relative RNA level</text>
<rect x="366.2" y="251.67" width="6.1" height="25.63" fill="#000"/>
<line x1="369.25" y1="250.39" x2="369.25" y2="252.95" stroke="#000" stroke-width="0.95"/>
<line x1="367.75" y1="250.39" x2="370.75" y2="250.39" stroke="#000" stroke-width="0.95"/>
<line x1="367.75" y1="252.95" x2="370.75" y2="252.95" stroke="#000" stroke-width="0.95"/>
<rect x="375.4" y="262.95" width="6.3" height="14.35" fill="#fc1e10"/>
<line x1="378.55" y1="261.41" x2="378.55" y2="264.49" stroke="#111" stroke-width="0.95"/>
<line x1="377.05" y1="261.41" x2="380.05" y2="261.41" stroke="#111" stroke-width="0.95"/>
<line x1="377.05" y1="264.49" x2="380.05" y2="264.49" stroke="#111" stroke-width="0.95"/>
<text x="378.55" y="260.48" font-size="4.6" text-anchor="middle" fill="#222">**</text>
<line x1="373.85" y1="277.3" x2="373.85" y2="280.9" stroke="#101010" stroke-width="1"/>
<text x="376.55" y="285.4" font-size="7.7" text-anchor="end" fill="#000" transform="rotate(-45 376.55 285.4)" stroke="#000" stroke-width="0.16">BMAL1</text>
<rect x="391.04" y="251.67" width="6.1" height="25.63" fill="#000"/>
<line x1="394.09" y1="250.39" x2="394.09" y2="252.95" stroke="#000" stroke-width="0.95"/>
<line x1="392.59" y1="250.39" x2="395.59" y2="250.39" stroke="#000" stroke-width="0.95"/>
<line x1="392.59" y1="252.95" x2="395.59" y2="252.95" stroke="#000" stroke-width="0.95"/>
<rect x="400.24" y="222.71" width="6.3" height="54.59" fill="#fc1e10"/>
<line x1="403.39" y1="215.02" x2="403.39" y2="230.4" stroke="#111" stroke-width="0.95"/>
<line x1="401.89" y1="215.02" x2="404.89" y2="215.02" stroke="#111" stroke-width="0.95"/>
<line x1="401.89" y1="230.4" x2="404.89" y2="230.4" stroke="#111" stroke-width="0.95"/>
<text x="403.39" y="214.09" font-size="4.6" text-anchor="middle" fill="#222">*</text>
<line x1="398.69" y1="277.3" x2="398.69" y2="280.9" stroke="#101010" stroke-width="1"/>
<text x="401.39" y="285.4" font-size="7.7" text-anchor="end" fill="#000" transform="rotate(-45 401.39 285.4)" stroke="#000" stroke-width="0.16">REV-ERBα</text>
<rect x="415.88" y="251.67" width="6.1" height="25.63" fill="#000"/>
<line x1="418.93" y1="250.39" x2="418.93" y2="252.95" stroke="#000" stroke-width="0.95"/>
<line x1="417.43" y1="250.39" x2="420.43" y2="250.39" stroke="#000" stroke-width="0.95"/>
<line x1="417.43" y1="252.95" x2="420.43" y2="252.95" stroke="#000" stroke-width="0.95"/>
<rect x="425.08" y="261.15" width="6.3" height="16.15" fill="#fc1e10"/>
<line x1="428.23" y1="258.08" x2="428.23" y2="264.49" stroke="#111" stroke-width="0.95"/>
<line x1="426.73" y1="258.08" x2="429.73" y2="258.08" stroke="#111" stroke-width="0.95"/>
<line x1="426.73" y1="264.49" x2="429.73" y2="264.49" stroke="#111" stroke-width="0.95"/>
<text x="428.23" y="257.15" font-size="4.6" text-anchor="middle" fill="#222">**</text>
<line x1="423.53" y1="277.3" x2="423.53" y2="280.9" stroke="#101010" stroke-width="1"/>
<text x="426.23" y="285.4" font-size="7.7" text-anchor="end" fill="#000" transform="rotate(-45 426.23 285.4)" stroke="#000" stroke-width="0.16">CLOCK</text>
<rect x="440.72" y="251.67" width="6.1" height="25.63" fill="#000"/>
<line x1="443.77" y1="250.39" x2="443.77" y2="252.95" stroke="#000" stroke-width="0.95"/>
<line x1="442.27" y1="250.39" x2="445.27" y2="250.39" stroke="#000" stroke-width="0.95"/>
<line x1="442.27" y1="252.95" x2="445.27" y2="252.95" stroke="#000" stroke-width="0.95"/>
<rect x="449.92" y="258.08" width="6.3" height="19.22" fill="#fc1e10"/>
<line x1="453.07" y1="255.26" x2="453.07" y2="261.15" stroke="#111" stroke-width="0.95"/>
<line x1="451.57" y1="255.26" x2="454.57" y2="255.26" stroke="#111" stroke-width="0.95"/>
<line x1="451.57" y1="261.15" x2="454.57" y2="261.15" stroke="#111" stroke-width="0.95"/>
<text x="453.07" y="254.33" font-size="4.6" text-anchor="middle" fill="#222">*</text>
<line x1="448.37" y1="277.3" x2="448.37" y2="280.9" stroke="#101010" stroke-width="1"/>
<text x="451.07" y="285.4" font-size="7.7" text-anchor="end" fill="#000" transform="rotate(-45 451.07 285.4)" stroke="#000" stroke-width="0.16">RORB</text>
<rect x="465.56" y="251.67" width="6.1" height="25.63" fill="#000"/>
<line x1="468.61" y1="250.39" x2="468.61" y2="252.95" stroke="#000" stroke-width="0.95"/>
<line x1="467.11" y1="250.39" x2="470.11" y2="250.39" stroke="#000" stroke-width="0.95"/>
<line x1="467.11" y1="252.95" x2="470.11" y2="252.95" stroke="#000" stroke-width="0.95"/>
<rect x="474.76" y="259.87" width="6.3" height="17.43" fill="#fc1e10"/>
<line x1="477.91" y1="254.75" x2="477.91" y2="264.49" stroke="#111" stroke-width="0.95"/>
<line x1="476.41" y1="254.75" x2="479.41" y2="254.75" stroke="#111" stroke-width="0.95"/>
<line x1="476.41" y1="264.49" x2="479.41" y2="264.49" stroke="#111" stroke-width="0.95"/>
<line x1="473.21" y1="277.3" x2="473.21" y2="280.9" stroke="#101010" stroke-width="1"/>
<text x="475.91" y="285.4" font-size="7.7" text-anchor="end" fill="#000" transform="rotate(-45 475.91 285.4)" stroke="#000" stroke-width="0.16">NFIL3</text>
<rect x="490.4" y="251.67" width="6.1" height="25.63" fill="#000"/>
<line x1="493.45" y1="250.39" x2="493.45" y2="252.95" stroke="#000" stroke-width="0.95"/>
<line x1="491.95" y1="250.39" x2="494.95" y2="250.39" stroke="#000" stroke-width="0.95"/>
<line x1="491.95" y1="252.95" x2="494.95" y2="252.95" stroke="#000" stroke-width="0.95"/>
<rect x="499.6" y="218.35" width="6.3" height="58.95" fill="#fc1e10"/>
<line x1="502.75" y1="208.87" x2="502.75" y2="227.83" stroke="#111" stroke-width="0.95"/>
<line x1="501.25" y1="208.87" x2="504.25" y2="208.87" stroke="#111" stroke-width="0.95"/>
<line x1="501.25" y1="227.83" x2="504.25" y2="227.83" stroke="#111" stroke-width="0.95"/>
<text x="502.75" y="207.94" font-size="4.6" text-anchor="middle" fill="#222">*</text>
<line x1="498.05" y1="277.3" x2="498.05" y2="280.9" stroke="#101010" stroke-width="1"/>
<text x="500.75" y="285.4" font-size="7.7" text-anchor="end" fill="#000" transform="rotate(-45 500.75 285.4)" stroke="#000" stroke-width="0.16">PER2</text>
<rect x="515.24" y="251.67" width="6.1" height="25.63" fill="#000"/>
<line x1="518.29" y1="250.39" x2="518.29" y2="252.95" stroke="#000" stroke-width="0.95"/>
<line x1="516.79" y1="250.39" x2="519.79" y2="250.39" stroke="#000" stroke-width="0.95"/>
<line x1="516.79" y1="252.95" x2="519.79" y2="252.95" stroke="#000" stroke-width="0.95"/>
<rect x="524.44" y="250.39" width="6.3" height="26.91" fill="#fc1e10"/>
<line x1="527.59" y1="246.54" x2="527.59" y2="254.23" stroke="#111" stroke-width="0.95"/>
<line x1="526.09" y1="246.54" x2="529.09" y2="246.54" stroke="#111" stroke-width="0.95"/>
<line x1="526.09" y1="254.23" x2="529.09" y2="254.23" stroke="#111" stroke-width="0.95"/>
<line x1="522.89" y1="277.3" x2="522.89" y2="280.9" stroke="#101010" stroke-width="1"/>
<text x="525.59" y="285.4" font-size="7.7" text-anchor="end" fill="#000" transform="rotate(-45 525.59 285.4)" stroke="#000" stroke-width="0.16">RORA</text>
<rect x="540.08" y="251.67" width="6.1" height="25.63" fill="#000"/>
<line x1="543.13" y1="250.39" x2="543.13" y2="252.95" stroke="#000" stroke-width="0.95"/>
<line x1="541.63" y1="250.39" x2="544.63" y2="250.39" stroke="#000" stroke-width="0.95"/>
<line x1="541.63" y1="252.95" x2="544.63" y2="252.95" stroke="#000" stroke-width="0.95"/>
<rect x="549.28" y="250.39" width="6.3" height="26.91" fill="#fc1e10"/>
<line x1="552.43" y1="247.31" x2="552.43" y2="253.46" stroke="#111" stroke-width="0.95"/>
<line x1="550.93" y1="247.31" x2="553.93" y2="247.31" stroke="#111" stroke-width="0.95"/>
<line x1="550.93" y1="253.46" x2="553.93" y2="253.46" stroke="#111" stroke-width="0.95"/>
<line x1="547.73" y1="277.3" x2="547.73" y2="280.9" stroke="#101010" stroke-width="1"/>
<text x="550.43" y="285.4" font-size="7.7" text-anchor="end" fill="#000" transform="rotate(-45 550.43 285.4)" stroke="#000" stroke-width="0.16">CRY2</text>
<rect x="564.92" y="251.67" width="6.1" height="25.63" fill="#000"/>
<line x1="567.97" y1="250.39" x2="567.97" y2="252.95" stroke="#000" stroke-width="0.95"/>
<line x1="566.47" y1="250.39" x2="569.47" y2="250.39" stroke="#000" stroke-width="0.95"/>
<line x1="566.47" y1="252.95" x2="569.47" y2="252.95" stroke="#000" stroke-width="0.95"/>
<rect x="574.12" y="252.44" width="6.3" height="24.86" fill="#fc1e10"/>
<line x1="577.27" y1="246.54" x2="577.27" y2="258.59" stroke="#111" stroke-width="0.95"/>
<line x1="575.77" y1="246.54" x2="578.77" y2="246.54" stroke="#111" stroke-width="0.95"/>
<line x1="575.77" y1="258.59" x2="578.77" y2="258.59" stroke="#111" stroke-width="0.95"/>
<line x1="572.57" y1="277.3" x2="572.57" y2="280.9" stroke="#101010" stroke-width="1"/>
<text x="575.27" y="285.4" font-size="7.7" text-anchor="end" fill="#000" transform="rotate(-45 575.27 285.4)" stroke="#000" stroke-width="0.16">PER3</text>
<rect x="589.76" y="251.67" width="6.1" height="25.63" fill="#000"/>
<line x1="592.81" y1="250.39" x2="592.81" y2="252.95" stroke="#000" stroke-width="0.95"/>
<line x1="591.31" y1="250.39" x2="594.31" y2="250.39" stroke="#000" stroke-width="0.95"/>
<line x1="591.31" y1="252.95" x2="594.31" y2="252.95" stroke="#000" stroke-width="0.95"/>
<rect x="598.96" y="260.64" width="6.3" height="16.66" fill="#fc1e10"/>
<line x1="602.11" y1="258.85" x2="602.11" y2="262.43" stroke="#111" stroke-width="0.95"/>
<line x1="600.61" y1="258.85" x2="603.61" y2="258.85" stroke="#111" stroke-width="0.95"/>
<line x1="600.61" y1="262.43" x2="603.61" y2="262.43" stroke="#111" stroke-width="0.95"/>
<text x="602.11" y="257.91" font-size="4.6" text-anchor="middle" fill="#222">**</text>
<line x1="597.41" y1="277.3" x2="597.41" y2="280.9" stroke="#101010" stroke-width="1"/>
<text x="600.11" y="285.4" font-size="7.7" text-anchor="end" fill="#000" transform="rotate(-45 600.11 285.4)" stroke="#000" stroke-width="0.16">CRY1</text>
<rect x="614.6" y="251.67" width="6.1" height="25.63" fill="#000"/>
<line x1="617.65" y1="250.39" x2="617.65" y2="252.95" stroke="#000" stroke-width="0.95"/>
<line x1="616.15" y1="250.39" x2="619.15" y2="250.39" stroke="#000" stroke-width="0.95"/>
<line x1="616.15" y1="252.95" x2="619.15" y2="252.95" stroke="#000" stroke-width="0.95"/>
<rect x="623.8" y="261.15" width="6.3" height="16.15" fill="#fc1e10"/>
<line x1="626.95" y1="257.31" x2="626.95" y2="264.49" stroke="#111" stroke-width="0.95"/>
<line x1="625.45" y1="257.31" x2="628.45" y2="257.31" stroke="#111" stroke-width="0.95"/>
<line x1="625.45" y1="264.49" x2="628.45" y2="264.49" stroke="#111" stroke-width="0.95"/>
<text x="626.95" y="256.38" font-size="4.6" text-anchor="middle" fill="#222">*</text>
<line x1="622.25" y1="277.3" x2="622.25" y2="280.9" stroke="#101010" stroke-width="1"/>
<text x="624.95" y="285.4" font-size="7.7" text-anchor="end" fill="#000" transform="rotate(-45 624.95 285.4)" stroke="#000" stroke-width="0.16">DBP</text>
<rect x="639.44" y="251.67" width="6.1" height="25.63" fill="#000"/>
<line x1="642.49" y1="250.39" x2="642.49" y2="252.95" stroke="#000" stroke-width="0.95"/>
<line x1="640.99" y1="250.39" x2="643.99" y2="250.39" stroke="#000" stroke-width="0.95"/>
<line x1="640.99" y1="252.95" x2="643.99" y2="252.95" stroke="#000" stroke-width="0.95"/>
<rect x="648.64" y="250.39" width="6.3" height="26.91" fill="#fc1e10"/>
<line x1="651.79" y1="243.21" x2="651.79" y2="257.31" stroke="#111" stroke-width="0.95"/>
<line x1="650.29" y1="243.21" x2="653.29" y2="243.21" stroke="#111" stroke-width="0.95"/>
<line x1="650.29" y1="257.31" x2="653.29" y2="257.31" stroke="#111" stroke-width="0.95"/>
<line x1="647.09" y1="277.3" x2="647.09" y2="280.9" stroke="#101010" stroke-width="1"/>
<text x="649.79" y="285.4" font-size="7.7" text-anchor="end" fill="#000" transform="rotate(-45 649.79 285.4)" stroke="#000" stroke-width="0.16">PER1</text>
<rect x="664.28" y="251.67" width="6.1" height="25.63" fill="#000"/>
<line x1="667.33" y1="250.39" x2="667.33" y2="252.95" stroke="#000" stroke-width="0.95"/>
<line x1="665.83" y1="250.39" x2="668.83" y2="250.39" stroke="#000" stroke-width="0.95"/>
<line x1="665.83" y1="252.95" x2="668.83" y2="252.95" stroke="#000" stroke-width="0.95"/>
<rect x="673.48" y="260.9" width="6.3" height="16.4" fill="#fc1e10"/>
<line x1="676.63" y1="256.28" x2="676.63" y2="265" stroke="#111" stroke-width="0.95"/>
<line x1="675.13" y1="256.28" x2="678.13" y2="256.28" stroke="#111" stroke-width="0.95"/>
<line x1="675.13" y1="265" x2="678.13" y2="265" stroke="#111" stroke-width="0.95"/>
<text x="676.63" y="255.35" font-size="4.6" text-anchor="middle" fill="#222">*</text>
<line x1="671.93" y1="277.3" x2="671.93" y2="280.9" stroke="#101010" stroke-width="1"/>
<text x="674.63" y="285.4" font-size="7.7" text-anchor="end" fill="#000" transform="rotate(-45 674.63 285.4)" stroke="#000" stroke-width="0.16">E2F8</text>
<line x1="362.2" y1="277.3" x2="683.7" y2="277.3" stroke="#101010" stroke-width="1.1"/>
<rect x="366.3" y="200" width="5" height="5" fill="#4a4a4a"/>
<text x="373.6" y="205.22" font-size="7.6" text-anchor="start" fill="#000" stroke="#000" stroke-width="0.16">shControl</text>
<rect x="411.4" y="200" width="5" height="5" fill="#f5313a"/>
<text x="418.3" y="204.42" font-size="7.6" text-anchor="start" fill="#000" stroke="#000" stroke-width="0.16">shE2F8</text>
<clipPath id="cpg1"><rect x="54.8" y="368" width="58.9" height="15.6"/></clipPath>
<rect x="54.8" y="368" width="58.9" height="15.6" fill="#e7e7e7"/>
<g clip-path="url(#cpg1)">
<rect x="59.1" y="374.75" width="10" height="2.1" rx="1.05" fill="#000" opacity="0.95" filter="url(#bl2)"/>
<rect x="60.1" y="375.3" width="8" height="1" rx="0.5" fill="#000" opacity="0.4" filter="url(#bl1)"/>
<rect x="72.9" y="374.45" width="9.2" height="1.5" rx="0.75" fill="#000" opacity="0.62" filter="url(#bl2)"/>
<rect x="85.8" y="374.35" width="9.6" height="2.3" rx="1.15" fill="#000" opacity="1" filter="url(#bl2)"/>
<rect x="86.6" y="374.9" width="8" height="1.2" rx="0.6" fill="#000" opacity="0.7" filter="url(#bl1)"/>
<rect x="98.4" y="375.05" width="10" height="1.9" rx="0.95" fill="#000" opacity="0.8" filter="url(#bl2)"/>
<rect x="98.6" y="375.1" width="4.8" height="1.2" rx="0.6" fill="#000" opacity="0.4" filter="url(#bl1)"/>
</g>
<rect x="54.8" y="368" width="58.9" height="15.6" fill="none" stroke="#000" stroke-width="1.4"/>
<text x="64.4" y="389" font-size="4" text-anchor="middle" fill="#2a2a2a">1.00</text>
<text x="77.8" y="389" font-size="4" text-anchor="middle" fill="#2a2a2a">0.67</text>
<text x="90.6" y="389" font-size="4" text-anchor="middle" fill="#2a2a2a">1.48</text>
<text x="103.1" y="389" font-size="4" text-anchor="middle" fill="#2a2a2a">0.98</text>
<clipPath id="cpg2"><rect x="54.8" y="392.7" width="58.9" height="15.5"/></clipPath>
<rect x="54.8" y="392.7" width="58.9" height="15.5" fill="#d3d3d3"/>
<g clip-path="url(#cpg2)">
<rect x="59.4" y="397.6" width="13.2" height="6.4" rx="3.2" fill="#000" opacity="1" filter="url(#bl3)"/>
<rect x="60.4" y="398.4" width="11.2" height="4.8" rx="2.4" fill="#000" opacity="1" filter="url(#bl2)"/>
<rect x="73.2" y="398.5" width="11.2" height="3.4" rx="1.7" fill="#000" opacity="0.95" filter="url(#bl3)"/>
<rect x="73.8" y="399.3" width="10" height="1.8" rx="0.9" fill="#000" opacity="0.8" filter="url(#bl2)"/>
<rect x="85.4" y="398.4" width="12.4" height="4.8" rx="2.4" fill="#000" opacity="1" filter="url(#bl3)"/>
<rect x="86.4" y="399.1" width="10.4" height="3.4" rx="1.7" fill="#000" opacity="1" filter="url(#bl2)"/>
<rect x="98.4" y="398.4" width="12" height="4.8" rx="2.4" fill="#000" opacity="1" filter="url(#bl3)"/>
<rect x="99.4" y="399.1" width="10" height="3.4" rx="1.7" fill="#000" opacity="1" filter="url(#bl2)"/>
<rect x="61" y="399.4" width="48" height="2.4" rx="1.2" fill="#000" opacity="0.9" filter="url(#bl2)"/>
<rect x="55" y="395.8" width="60" height="10" rx="5" fill="#000" opacity="0.18" filter="url(#bl4)"/>
</g>
<rect x="54.8" y="392.7" width="58.9" height="15.5" fill="none" stroke="#000" stroke-width="1.4"/>
<text x="66.3" y="413" font-size="4" text-anchor="middle" fill="#2a2a2a">1.00</text>
<text x="79" y="413" font-size="4" text-anchor="middle" fill="#2a2a2a">0.68</text>
<text x="91.9" y="413" font-size="4" text-anchor="middle" fill="#2a2a2a">1.13</text>
<text x="104.6" y="413" font-size="4" text-anchor="middle" fill="#2a2a2a">0.89</text>
<clipPath id="cpg3"><rect x="54.8" y="416.1" width="58.9" height="15.1"/></clipPath>
<rect x="54.8" y="416.1" width="58.9" height="15.1" fill="#e1e1e1"/>
<g clip-path="url(#cpg3)">
<rect x="75.9" y="422.15" width="8.8" height="1.7" rx="0.85" fill="#000" opacity="0.98" filter="url(#bl2)"/>
<rect x="87.8" y="424.55" width="9.4" height="1.9" rx="0.95" fill="#000" opacity="1" filter="url(#bl2)"/>
<rect x="88.7" y="425" width="7.6" height="1" rx="0.5" fill="#000" opacity="0.7" filter="url(#bl1)"/>
<rect x="100.2" y="423.5" width="9.6" height="2.8" rx="1.4" fill="#000" opacity="1" filter="url(#bl2)"/>
<rect x="101" y="424.05" width="8" height="1.7" rx="0.85" fill="#000" opacity="1" filter="url(#bl1)"/>
</g>
<rect x="54.8" y="416.1" width="58.9" height="15.1" fill="none" stroke="#000" stroke-width="1.4"/>
<clipPath id="cpg4"><rect x="54.8" y="436.5" width="58.9" height="14.8"/></clipPath>
<rect x="54.8" y="436.5" width="58.9" height="14.8" fill="#ececec"/>
<g clip-path="url(#cpg4)">
<rect x="58.4" y="442.6" width="10.2" height="2.6" rx="1.3" fill="#000" opacity="1" filter="url(#bl2)"/>
<rect x="59.3" y="443.15" width="8.4" height="1.5" rx="0.75" fill="#000" opacity="1" filter="url(#bl1)"/>
<rect x="72.1" y="443.1" width="9.6" height="2" rx="1" fill="#000" opacity="1" filter="url(#bl2)"/>
<rect x="73.1" y="443.6" width="7.6" height="1" rx="0.5" fill="#000" opacity="0.9" filter="url(#bl1)"/>
<rect x="85.8" y="442.9" width="9.6" height="2.2" rx="1.1" fill="#000" opacity="1" filter="url(#bl2)"/>
<rect x="86.8" y="443.45" width="7.6" height="1.1" rx="0.55" fill="#000" opacity="0.9" filter="url(#bl1)"/>
<rect x="98.3" y="442.6" width="10.2" height="2.6" rx="1.3" fill="#000" opacity="1" filter="url(#bl2)"/>
<rect x="99.2" y="443.15" width="8.4" height="1.5" rx="0.75" fill="#000" opacity="1" filter="url(#bl1)"/>
</g>
<rect x="54.8" y="436.5" width="58.9" height="14.8" fill="none" stroke="#000" stroke-width="1.4"/>
<line x1="116.4" y1="380.9" x2="122.5" y2="380.9" stroke="#000" stroke-width="1.9"/>
<text x="123.9" y="383.62" font-size="7.6" text-anchor="start" fill="#000" stroke="#000" stroke-width="0.16">70kDa</text>
<line x1="116.4" y1="405.5" x2="122.5" y2="405.5" stroke="#000" stroke-width="1.9"/>
<text x="123.9" y="408.22" font-size="7.6" text-anchor="start" fill="#000" stroke="#000" stroke-width="0.16">100kDa</text>
<line x1="116.4" y1="423.3" x2="122.5" y2="423.3" stroke="#000" stroke-width="1.9"/>
<text x="123.9" y="426.02" font-size="7.6" text-anchor="start" fill="#000" stroke="#000" stroke-width="0.16">100kDa</text>
<line x1="116.4" y1="447.6" x2="122.5" y2="447.6" stroke="#000" stroke-width="1.9"/>
<text x="123.9" y="450.32" font-size="7.6" text-anchor="start" fill="#000" stroke="#000" stroke-width="0.16">35kDa</text>
<text x="49.6" y="378.3" font-size="7.6" text-anchor="end" fill="#000" stroke="#000" stroke-width="0.16">REV-ERBα</text>
<text x="49.6" y="403.3" font-size="7.6" text-anchor="end" fill="#000" stroke="#000" stroke-width="0.16">PER2</text>
<text x="49.6" y="427.3" font-size="7.6" text-anchor="end" fill="#000" stroke="#000" stroke-width="0.16">FLAG</text>
<text x="49.6" y="447" font-size="7.6" text-anchor="end" fill="#000" stroke="#000" stroke-width="0.16">GAPDH</text>
<text x="65.9" y="365.2" font-size="7.95" text-anchor="start" fill="#000" transform="rotate(-90 65.9 365.2)" stroke="#000" stroke-width="0.16">EV</text>
<text x="79.9" y="365.2" font-size="7.95" text-anchor="start" fill="#000" transform="rotate(-90 79.9 365.2)" stroke="#000" stroke-width="0.16">E2F8-FL</text>
<text x="93.9" y="365.2" font-size="7.95" text-anchor="start" fill="#000" transform="rotate(-90 93.9 365.2)" stroke="#000" stroke-width="0.16">E2F8-dD1</text>
<text x="107.3" y="365.2" font-size="7.95" text-anchor="start" fill="#000" transform="rotate(-90 107.3 365.2)" stroke="#000" stroke-width="0.16">E2F8-dD2</text>
<rect x="183.4" y="344.4" width="109.7" height="124.7" fill="#fff" stroke="#a6a6a6" stroke-width="0.6"/>
<line x1="192" y1="344.8" x2="192" y2="468.7" stroke="#ebebeb" stroke-width="0.4"/>
<line x1="192" y1="469.1" x2="192" y2="470.8" stroke="#444" stroke-width="0.6"/>
<line x1="203.2" y1="344.8" x2="203.2" y2="468.7" stroke="#ebebeb" stroke-width="0.4"/>
<line x1="203.2" y1="469.1" x2="203.2" y2="470.8" stroke="#444" stroke-width="0.6"/>
<line x1="212.3" y1="344.8" x2="212.3" y2="468.7" stroke="#ebebeb" stroke-width="0.4"/>
<line x1="212.3" y1="469.1" x2="212.3" y2="470.8" stroke="#444" stroke-width="0.6"/>
<line x1="223.4" y1="344.8" x2="223.4" y2="468.7" stroke="#ebebeb" stroke-width="0.4"/>
<line x1="223.4" y1="469.1" x2="223.4" y2="470.8" stroke="#444" stroke-width="0.6"/>
<line x1="232.6" y1="344.8" x2="232.6" y2="468.7" stroke="#ebebeb" stroke-width="0.4"/>
<line x1="232.6" y1="469.1" x2="232.6" y2="470.8" stroke="#444" stroke-width="0.6"/>
<line x1="242.8" y1="344.8" x2="242.8" y2="468.7" stroke="#ebebeb" stroke-width="0.4"/>
<line x1="242.8" y1="469.1" x2="242.8" y2="470.8" stroke="#444" stroke-width="0.6"/>
<line x1="253" y1="344.8" x2="253" y2="468.7" stroke="#ebebeb" stroke-width="0.4"/>
<line x1="253" y1="469.1" x2="253" y2="470.8" stroke="#444" stroke-width="0.6"/>
<line x1="262.6" y1="344.8" x2="262.6" y2="468.7" stroke="#ebebeb" stroke-width="0.4"/>
<line x1="262.6" y1="469.1" x2="262.6" y2="470.8" stroke="#444" stroke-width="0.6"/>
<line x1="272.6" y1="344.8" x2="272.6" y2="468.7" stroke="#ebebeb" stroke-width="0.4"/>
<line x1="272.6" y1="469.1" x2="272.6" y2="470.8" stroke="#444" stroke-width="0.6"/>
<line x1="282.3" y1="344.8" x2="282.3" y2="468.7" stroke="#ebebeb" stroke-width="0.4"/>
<line x1="282.3" y1="469.1" x2="282.3" y2="470.8" stroke="#444" stroke-width="0.6"/>
<line x1="291.8" y1="344.8" x2="291.8" y2="468.7" stroke="#ebebeb" stroke-width="0.4"/>
<line x1="291.8" y1="469.1" x2="291.8" y2="470.8" stroke="#444" stroke-width="0.6"/>
<rect x="189" y="350" width="24.9" height="113.4" fill="#8abf74"/>
<rect x="213.9" y="350" width="37.2" height="113.4" fill="#66cdb6"/>
<rect x="251.1" y="350" width="37.5" height="113.4" fill="#cb99e0"/>
<line x1="232.4" y1="344.4" x2="232.4" y2="469.1" stroke="#3a3a3a" stroke-width="0.65"/>
<text x="240.7" y="334.7" font-size="6.4" text-anchor="middle" fill="#000" stroke="#000" stroke-width="0.16">Distribution of E2F8 Peaks Relative</text>
<text x="240.7" y="342.2" font-size="6.4" text-anchor="middle" fill="#000" stroke="#000" stroke-width="0.16">to REV-ERBα Promoter TSS</text>
<text x="192" y="477" font-size="6.4" text-anchor="middle" fill="#000" stroke="#000" stroke-width="0.16">40</text>
<text x="203.2" y="477" font-size="6.4" text-anchor="middle" fill="#000" stroke="#000" stroke-width="0.16">30</text>
<text x="212.3" y="477" font-size="6.4" text-anchor="middle" fill="#000" stroke="#000" stroke-width="0.16">20</text>
<text x="223.4" y="477" font-size="6.4" text-anchor="middle" fill="#000" stroke="#000" stroke-width="0.16">10</text>
<text x="232.6" y="477" font-size="6.4" text-anchor="middle" fill="#000" stroke="#000" stroke-width="0.16">TSS</text>
<text x="242.8" y="477" font-size="6.4" text-anchor="middle" fill="#000" stroke="#000" stroke-width="0.16">10</text>
<text x="253" y="477" font-size="6.4" text-anchor="middle" fill="#000" stroke="#000" stroke-width="0.16">20</text>
<text x="262.6" y="477" font-size="6.4" text-anchor="middle" fill="#000" stroke="#000" stroke-width="0.16">30</text>
<text x="272.6" y="477" font-size="6.4" text-anchor="middle" fill="#000" stroke="#000" stroke-width="0.16">40</text>
<text x="282.3" y="477" font-size="6.4" text-anchor="middle" fill="#000" stroke="#000" stroke-width="0.16">50</text>
<text x="291.8" y="477" font-size="6.4" text-anchor="middle" fill="#000" stroke="#000" stroke-width="0.16">60</text>
<text x="243.7" y="483.1" font-size="6.4" text-anchor="middle" fill="#000" stroke="#000" stroke-width="0.16">Binding sites (%) (5'→3')</text>
<text x="306.3" y="388.3" font-size="6.4" text-anchor="middle" fill="#000" stroke="#000" stroke-width="0.16">Feature</text>
<rect x="301.9" y="391.8" width="7.3" height="7.3" fill="#8abf74"/>
<text x="306.5" y="407.3" font-size="6.4" text-anchor="middle" fill="#000" stroke="#000" stroke-width="0.16">5-10kb</text>
<rect x="301.9" y="407.6" width="7.3" height="7.3" fill="#66cdb6"/>
<text x="306.9" y="421" font-size="6.4" text-anchor="middle" fill="#000" stroke="#000" stroke-width="0.16">0 bp-1kb</text>
<rect x="301.9" y="422.8" width="7.3" height="7.3" fill="#cb99e0"/>
<text x="306.4" y="438.6" font-size="6.4" text-anchor="middle" fill="#000" stroke="#000" stroke-width="0.16">1-3kb</text>
<rect x="324.5" y="344.4" width="109.1" height="123.6" fill="#fff" stroke="#a6a6a6" stroke-width="0.6"/>
<line x1="324" y1="344.8" x2="324" y2="467.6" stroke="#ebebeb" stroke-width="0.4"/>
<line x1="324" y1="468" x2="324" y2="469.7" stroke="#444" stroke-width="0.6"/>
<line x1="334.2" y1="344.8" x2="334.2" y2="467.6" stroke="#ebebeb" stroke-width="0.4"/>
<line x1="334.2" y1="468" x2="334.2" y2="469.7" stroke="#444" stroke-width="0.6"/>
<line x1="343.9" y1="344.8" x2="343.9" y2="467.6" stroke="#ebebeb" stroke-width="0.4"/>
<line x1="343.9" y1="468" x2="343.9" y2="469.7" stroke="#444" stroke-width="0.6"/>
<line x1="353.9" y1="344.8" x2="353.9" y2="467.6" stroke="#ebebeb" stroke-width="0.4"/>
<line x1="353.9" y1="468" x2="353.9" y2="469.7" stroke="#444" stroke-width="0.6"/>
<line x1="364" y1="344.8" x2="364" y2="467.6" stroke="#ebebeb" stroke-width="0.4"/>
<line x1="364" y1="468" x2="364" y2="469.7" stroke="#444" stroke-width="0.6"/>
<line x1="373.7" y1="344.8" x2="373.7" y2="467.6" stroke="#ebebeb" stroke-width="0.4"/>
<line x1="373.7" y1="468" x2="373.7" y2="469.7" stroke="#444" stroke-width="0.6"/>
<line x1="383.9" y1="344.8" x2="383.9" y2="467.6" stroke="#ebebeb" stroke-width="0.4"/>
<line x1="383.9" y1="468" x2="383.9" y2="469.7" stroke="#444" stroke-width="0.6"/>
<line x1="394.3" y1="344.8" x2="394.3" y2="467.6" stroke="#ebebeb" stroke-width="0.4"/>
<line x1="394.3" y1="468" x2="394.3" y2="469.7" stroke="#444" stroke-width="0.6"/>
<line x1="403.7" y1="344.8" x2="403.7" y2="467.6" stroke="#ebebeb" stroke-width="0.4"/>
<line x1="403.7" y1="468" x2="403.7" y2="469.7" stroke="#444" stroke-width="0.6"/>
<line x1="413.5" y1="344.8" x2="413.5" y2="467.6" stroke="#ebebeb" stroke-width="0.4"/>
<line x1="413.5" y1="468" x2="413.5" y2="469.7" stroke="#444" stroke-width="0.6"/>
<line x1="423.9" y1="344.8" x2="423.9" y2="467.6" stroke="#ebebeb" stroke-width="0.4"/>
<line x1="423.9" y1="468" x2="423.9" y2="469.7" stroke="#444" stroke-width="0.6"/>
<line x1="433.6" y1="344.8" x2="433.6" y2="467.6" stroke="#ebebeb" stroke-width="0.4"/>
<line x1="433.6" y1="468" x2="433.6" y2="469.7" stroke="#444" stroke-width="0.6"/>
<rect x="329.7" y="350" width="24.6" height="112.8" fill="#cb99e0"/>
<rect x="354.3" y="350" width="49.2" height="112.8" fill="#8abf74"/>
<rect x="403.5" y="350" width="12.7" height="112.8" fill="#66cdb6"/>
<rect x="416.2" y="350" width="12.4" height="112.8" fill="#cb99e0"/>
<line x1="403.5" y1="344.4" x2="403.5" y2="468" stroke="#3a3a3a" stroke-width="0.65"/>
<text x="380" y="334.7" font-size="6.4" text-anchor="middle" fill="#000" stroke="#000" stroke-width="0.16">Distribution of E2F8 Peaks Relative</text>
<text x="380" y="342.2" font-size="6.4" text-anchor="middle" fill="#000" stroke="#000" stroke-width="0.16">to PER2 Promoter TSS</text>
<text x="324" y="475.5" font-size="6.4" text-anchor="middle" fill="#000" stroke="#000" stroke-width="0.16">80</text>
<text x="334.2" y="475.5" font-size="6.4" text-anchor="middle" fill="#000" stroke="#000" stroke-width="0.16">70</text>
<text x="343.9" y="475.5" font-size="6.4" text-anchor="middle" fill="#000" stroke="#000" stroke-width="0.16">60</text>
<text x="353.9" y="475.5" font-size="6.4" text-anchor="middle" fill="#000" stroke="#000" stroke-width="0.16">50</text>
<text x="364" y="475.5" font-size="6.4" text-anchor="middle" fill="#000" stroke="#000" stroke-width="0.16">40</text>
<text x="373.7" y="475.5" font-size="6.4" text-anchor="middle" fill="#000" stroke="#000" stroke-width="0.16">30</text>
<text x="383.9" y="475.5" font-size="6.4" text-anchor="middle" fill="#000" stroke="#000" stroke-width="0.16">20</text>
<text x="394.3" y="475.5" font-size="6.4" text-anchor="middle" fill="#000" stroke="#000" stroke-width="0.16">10</text>
<text x="403.7" y="475.5" font-size="6.4" text-anchor="middle" fill="#000" stroke="#000" stroke-width="0.16">TSS</text>
<text x="413.5" y="475.5" font-size="6.4" text-anchor="middle" fill="#000" stroke="#000" stroke-width="0.16">10</text>
<text x="423.9" y="475.5" font-size="6.4" text-anchor="middle" fill="#000" stroke="#000" stroke-width="0.16">20</text>
<text x="433.6" y="475.5" font-size="6.4" text-anchor="middle" fill="#000" stroke="#000" stroke-width="0.16">30</text>
<text x="385.7" y="483.1" font-size="6.4" text-anchor="middle" fill="#000" stroke="#000" stroke-width="0.16">Binding sites (%) (5'→3')</text>
<text x="446.8" y="388" font-size="6.4" text-anchor="middle" fill="#000" stroke="#000" stroke-width="0.16">Feature</text>
<text x="448.2" y="403.6" font-size="6.4" text-anchor="middle" fill="#000" stroke="#000" stroke-width="0.16">0 bp-1kb</text>
<text x="446.6" y="419.6" font-size="6.4" text-anchor="middle" fill="#000" stroke="#000" stroke-width="0.16">1-3kb</text>
<text x="446.8" y="434.8" font-size="6.4" text-anchor="middle" fill="#000" stroke="#000" stroke-width="0.16">3-5kb</text>
<rect x="442.7" y="388.9" width="7.4" height="7.2" fill="#8abf74"/>
<rect x="442.7" y="404.7" width="7.4" height="7.2" fill="#66cdb6"/>
<rect x="442.7" y="419.9" width="7.4" height="7.2" fill="#cb99e0"/>
<line x1="534.4" y1="345.3" x2="534.4" y2="450.7" stroke="#101010" stroke-width="1"/>
<line x1="529.8" y1="450.2" x2="534.4" y2="450.2" stroke="#101010" stroke-width="1"/>
<text x="525.2" y="453.57" font-size="9.4" text-anchor="end" fill="#000" stroke="#000" stroke-width="0.16">0</text>
<line x1="529.8" y1="415.4" x2="534.4" y2="415.4" stroke="#101010" stroke-width="1"/>
<text x="525.2" y="418.77" font-size="9.4" text-anchor="end" fill="#000" stroke="#000" stroke-width="0.16">5</text>
<line x1="529.8" y1="380.6" x2="534.4" y2="380.6" stroke="#101010" stroke-width="1"/>
<text x="525.2" y="383.97" font-size="9.4" text-anchor="end" fill="#000" stroke="#000" stroke-width="0.16">10</text>
<line x1="529.8" y1="345.8" x2="534.4" y2="345.8" stroke="#101010" stroke-width="1"/>
<text x="525.2" y="349.17" font-size="9.4" text-anchor="end" fill="#000" stroke="#000" stroke-width="0.16">15</text>
<line x1="533.9" y1="450.2" x2="629.8" y2="450.2" stroke="#262626" stroke-width="1"/>
<text x="511.23" y="403.2" font-size="8.7" text-anchor="middle" fill="#000" transform="rotate(-90 511.23 403.2)" stroke="#000" stroke-width="0.16">Fold enrichment</text>
<rect x="540.5" y="443.24" width="12.5" height="6.96" fill="#000"/>
<line x1="546.75" y1="442.54" x2="546.75" y2="443.94" stroke="#000" stroke-width="0.8"/>
<line x1="543.75" y1="442.54" x2="549.75" y2="442.54" stroke="#000" stroke-width="0.8"/>
<line x1="543.75" y1="443.94" x2="549.75" y2="443.94" stroke="#000" stroke-width="0.8"/>
<rect x="560" y="394.03" width="12.1" height="56.17" fill="#fc1e10" stroke="#200" stroke-width="0.9"/>
<line x1="566.05" y1="373.64" x2="566.05" y2="412.62" stroke="#111" stroke-width="1"/>
<line x1="563.05" y1="373.64" x2="569.05" y2="373.64" stroke="#111" stroke-width="1"/>
<line x1="563.05" y1="412.62" x2="569.05" y2="412.62" stroke="#111" stroke-width="1"/>
<rect x="591.3" y="443.24" width="12.5" height="6.96" fill="#000"/>
<line x1="597.55" y1="442.54" x2="597.55" y2="443.94" stroke="#000" stroke-width="0.8"/>
<line x1="594.55" y1="442.54" x2="600.55" y2="442.54" stroke="#000" stroke-width="0.8"/>
<line x1="594.55" y1="443.94" x2="600.55" y2="443.94" stroke="#000" stroke-width="0.8"/>
<rect x="611" y="419.58" width="12.1" height="30.62" fill="#fc1e10" stroke="#200" stroke-width="0.9"/>
<line x1="617.05" y1="413.66" x2="617.05" y2="423.96" stroke="#111" stroke-width="1"/>
<line x1="614.05" y1="413.66" x2="620.05" y2="413.66" stroke="#111" stroke-width="1"/>
<line x1="614.05" y1="423.96" x2="620.05" y2="423.96" stroke="#111" stroke-width="1"/>
<line x1="549.1" y1="368.4" x2="567.7" y2="368.4" stroke="#111" stroke-width="1.1"/>
<text x="558.5" y="367.2" font-size="6" text-anchor="middle" fill="#000" stroke="#000" stroke-width="0.16">*</text>
<line x1="598.6" y1="408.6" x2="617.2" y2="408.6" stroke="#111" stroke-width="1.1"/>
<text x="606.9" y="407" font-size="6" text-anchor="middle" fill="#000" stroke="#000" stroke-width="0.16">**</text>
<line x1="557" y1="450.2" x2="557" y2="454.2" stroke="#262626" stroke-width="1"/>
<line x1="607.1" y1="450.2" x2="607.1" y2="454.2" stroke="#262626" stroke-width="1"/>
<text x="555.5" y="461.8" font-size="7.6" text-anchor="middle" fill="#000" stroke="#000" stroke-width="0.16">PER2</text>
<text x="607.2" y="461.8" font-size="7.6" text-anchor="middle" fill="#000" stroke="#000" stroke-width="0.16">REV-ERBα</text>
<rect x="543.6" y="344.55" width="4.9" height="4.9" fill="#4a4a4a"/>
<text x="551.9" y="349.72" font-size="7.6" text-anchor="start" fill="#000" stroke="#000" stroke-width="0.16">IgG</text>
<rect x="569.4" y="344.55" width="4.9" height="4.9" fill="#f5313a"/>
<text x="577.5" y="349.72" font-size="7.6" text-anchor="start" fill="#000" stroke="#000" stroke-width="0.16">FLAG</text>
<line x1="31.2" y1="517.6" x2="31.2" y2="593.6" stroke="#101010" stroke-width="1"/>
<line x1="26.9" y1="593.1" x2="31.2" y2="593.1" stroke="#101010" stroke-width="1"/>
<text x="25.1" y="595.78" font-size="7.5" text-anchor="end" fill="#000" stroke="#000" stroke-width="0.16">0</text>
<line x1="26.9" y1="574.35" x2="31.2" y2="574.35" stroke="#101010" stroke-width="1"/>
<text x="25.1" y="577.03" font-size="7.5" text-anchor="end" fill="#000" stroke="#000" stroke-width="0.16">1</text>
<line x1="26.9" y1="555.6" x2="31.2" y2="555.6" stroke="#101010" stroke-width="1"/>
<text x="25.1" y="558.28" font-size="7.5" text-anchor="end" fill="#000" stroke="#000" stroke-width="0.16">2</text>
<line x1="26.9" y1="536.85" x2="31.2" y2="536.85" stroke="#101010" stroke-width="1"/>
<text x="25.1" y="539.53" font-size="7.5" text-anchor="end" fill="#000" stroke="#000" stroke-width="0.16">3</text>
<line x1="26.9" y1="518.1" x2="31.2" y2="518.1" stroke="#101010" stroke-width="1"/>
<text x="25.1" y="520.78" font-size="7.5" text-anchor="end" fill="#000" stroke="#000" stroke-width="0.16">4</text>
<text x="17.67" y="557.5" font-size="7.7" text-anchor="middle" fill="#000" transform="rotate(-90 17.67 557.5)" stroke="#000" stroke-width="0.16">Relative RNA level</text>
<rect x="32.4" y="574.35" width="3.5" height="18.75" fill="#000"/>
<line x1="34.15" y1="573.23" x2="34.15" y2="575.48" stroke="#000" stroke-width="0.9"/>
<line x1="33.05" y1="573.23" x2="35.25" y2="573.23" stroke="#000" stroke-width="0.9"/>
<line x1="33.05" y1="575.48" x2="35.25" y2="575.48" stroke="#000" stroke-width="0.9"/>
<rect x="37.9" y="581.85" width="3.5" height="11.25" fill="#fc1e10"/>
<line x1="39.65" y1="579.04" x2="39.65" y2="584.66" stroke="#111" stroke-width="0.9"/>
<line x1="38.55" y1="579.04" x2="40.75" y2="579.04" stroke="#111" stroke-width="0.9"/>
<line x1="38.55" y1="584.66" x2="40.75" y2="584.66" stroke="#111" stroke-width="0.9"/>
<text x="39.65" y="578.05" font-size="4.5" text-anchor="middle" fill="#222">*</text>
<line x1="36.9" y1="593.1" x2="36.9" y2="597.1" stroke="#101010" stroke-width="1"/>
<text x="41.1" y="600.6" font-size="7.7" text-anchor="end" fill="#000" transform="rotate(-45 41.1 600.6)" stroke="#000" stroke-width="0.16">ITGA6</text>
<rect x="46.17" y="574.35" width="3.5" height="18.75" fill="#000"/>
<line x1="47.92" y1="573.23" x2="47.92" y2="575.48" stroke="#000" stroke-width="0.9"/>
<line x1="46.82" y1="573.23" x2="49.02" y2="573.23" stroke="#000" stroke-width="0.9"/>
<line x1="46.82" y1="575.48" x2="49.02" y2="575.48" stroke="#000" stroke-width="0.9"/>
<rect x="51.67" y="573.98" width="3.5" height="19.12" fill="#fc1e10"/>
<line x1="53.42" y1="571.54" x2="53.42" y2="576.23" stroke="#111" stroke-width="0.9"/>
<line x1="52.32" y1="571.54" x2="54.52" y2="571.54" stroke="#111" stroke-width="0.9"/>
<line x1="52.32" y1="576.23" x2="54.52" y2="576.23" stroke="#111" stroke-width="0.9"/>
<line x1="50.67" y1="593.1" x2="50.67" y2="597.1" stroke="#101010" stroke-width="1"/>
<text x="54.87" y="600.6" font-size="7.7" text-anchor="end" fill="#000" transform="rotate(-45 54.87 600.6)" stroke="#000" stroke-width="0.16">GRP78</text>
<rect x="59.94" y="574.35" width="3.5" height="18.75" fill="#000"/>
<line x1="61.69" y1="573.23" x2="61.69" y2="575.48" stroke="#000" stroke-width="0.9"/>
<line x1="60.59" y1="573.23" x2="62.79" y2="573.23" stroke="#000" stroke-width="0.9"/>
<line x1="60.59" y1="575.48" x2="62.79" y2="575.48" stroke="#000" stroke-width="0.9"/>
<rect x="65.44" y="549.6" width="3.5" height="43.5" fill="#fc1e10"/>
<line x1="67.19" y1="542.1" x2="67.19" y2="556.91" stroke="#111" stroke-width="0.9"/>
<line x1="66.09" y1="542.1" x2="68.29" y2="542.1" stroke="#111" stroke-width="0.9"/>
<line x1="66.09" y1="556.91" x2="68.29" y2="556.91" stroke="#111" stroke-width="0.9"/>
<text x="67.19" y="541.11" font-size="4.5" text-anchor="middle" fill="#222">**</text>
<line x1="64.44" y1="593.1" x2="64.44" y2="597.1" stroke="#101010" stroke-width="1"/>
<text x="68.64" y="600.6" font-size="7.7" text-anchor="end" fill="#000" transform="rotate(-45 68.64 600.6)" stroke="#000" stroke-width="0.16">TFRC</text>
<rect x="73.71" y="574.35" width="3.5" height="18.75" fill="#000"/>
<line x1="75.46" y1="573.23" x2="75.46" y2="575.48" stroke="#000" stroke-width="0.9"/>
<line x1="74.36" y1="573.23" x2="76.56" y2="573.23" stroke="#000" stroke-width="0.9"/>
<line x1="74.36" y1="575.48" x2="76.56" y2="575.48" stroke="#000" stroke-width="0.9"/>
<rect x="79.21" y="549.98" width="3.5" height="43.12" fill="#fc1e10"/>
<line x1="80.96" y1="540.98" x2="80.96" y2="559.35" stroke="#111" stroke-width="0.9"/>
<line x1="79.86" y1="540.98" x2="82.06" y2="540.98" stroke="#111" stroke-width="0.9"/>
<line x1="79.86" y1="559.35" x2="82.06" y2="559.35" stroke="#111" stroke-width="0.9"/>
<text x="80.96" y="539.99" font-size="4.5" text-anchor="middle" fill="#222">*</text>
<line x1="78.21" y1="593.1" x2="78.21" y2="597.1" stroke="#101010" stroke-width="1"/>
<text x="82.41" y="600.6" font-size="7.7" text-anchor="end" fill="#000" transform="rotate(-45 82.41 600.6)" stroke="#000" stroke-width="0.16">CD81</text>
<rect x="87.48" y="574.35" width="3.5" height="18.75" fill="#000"/>
<line x1="89.23" y1="573.23" x2="89.23" y2="575.48" stroke="#000" stroke-width="0.9"/>
<line x1="88.13" y1="573.23" x2="90.33" y2="573.23" stroke="#000" stroke-width="0.9"/>
<line x1="88.13" y1="575.48" x2="90.33" y2="575.48" stroke="#000" stroke-width="0.9"/>
<rect x="92.98" y="550.91" width="3.5" height="42.19" fill="#fc1e10"/>
<line x1="94.73" y1="542.1" x2="94.73" y2="559.35" stroke="#111" stroke-width="0.9"/>
<line x1="93.63" y1="542.1" x2="95.83" y2="542.1" stroke="#111" stroke-width="0.9"/>
<line x1="93.63" y1="559.35" x2="95.83" y2="559.35" stroke="#111" stroke-width="0.9"/>
<text x="94.73" y="541.11" font-size="4.5" text-anchor="middle" fill="#222">*</text>
<line x1="91.98" y1="593.1" x2="91.98" y2="597.1" stroke="#101010" stroke-width="1"/>
<text x="96.18" y="600.6" font-size="7.7" text-anchor="end" fill="#000" transform="rotate(-45 96.18 600.6)" stroke="#000" stroke-width="0.16">ST3GAL4</text>
<rect x="101.25" y="574.35" width="3.5" height="18.75" fill="#000"/>
<line x1="103" y1="573.23" x2="103" y2="575.48" stroke="#000" stroke-width="0.9"/>
<line x1="101.9" y1="573.23" x2="104.1" y2="573.23" stroke="#000" stroke-width="0.9"/>
<line x1="101.9" y1="575.48" x2="104.1" y2="575.48" stroke="#000" stroke-width="0.9"/>
<rect x="106.75" y="570.04" width="3.5" height="23.06" fill="#fc1e10"/>
<line x1="108.5" y1="566.85" x2="108.5" y2="573.04" stroke="#111" stroke-width="0.9"/>
<line x1="107.4" y1="566.85" x2="109.6" y2="566.85" stroke="#111" stroke-width="0.9"/>
<line x1="107.4" y1="573.04" x2="109.6" y2="573.04" stroke="#111" stroke-width="0.9"/>
<line x1="105.75" y1="593.1" x2="105.75" y2="597.1" stroke="#101010" stroke-width="1"/>
<text x="109.95" y="600.6" font-size="7.7" text-anchor="end" fill="#000" transform="rotate(-45 109.95 600.6)" stroke="#000" stroke-width="0.16">PHB1</text>
<rect x="115.02" y="574.35" width="3.5" height="18.75" fill="#000"/>
<line x1="116.77" y1="573.23" x2="116.77" y2="575.48" stroke="#000" stroke-width="0.9"/>
<line x1="115.67" y1="573.23" x2="117.87" y2="573.23" stroke="#000" stroke-width="0.9"/>
<line x1="115.67" y1="575.48" x2="117.87" y2="575.48" stroke="#000" stroke-width="0.9"/>
<rect x="120.52" y="570.41" width="3.5" height="22.69" fill="#fc1e10"/>
<line x1="122.27" y1="565.16" x2="122.27" y2="575.29" stroke="#111" stroke-width="0.9"/>
<line x1="121.17" y1="565.16" x2="123.37" y2="565.16" stroke="#111" stroke-width="0.9"/>
<line x1="121.17" y1="575.29" x2="123.37" y2="575.29" stroke="#111" stroke-width="0.9"/>
<line x1="119.52" y1="593.1" x2="119.52" y2="597.1" stroke="#101010" stroke-width="1"/>
<text x="123.72" y="600.6" font-size="7.7" text-anchor="end" fill="#000" transform="rotate(-45 123.72 600.6)" stroke="#000" stroke-width="0.16">HSPGS</text>
<rect x="128.79" y="574.35" width="3.5" height="18.75" fill="#000"/>
<line x1="130.54" y1="573.23" x2="130.54" y2="575.48" stroke="#000" stroke-width="0.9"/>
<line x1="129.44" y1="573.23" x2="131.64" y2="573.23" stroke="#000" stroke-width="0.9"/>
<line x1="129.44" y1="575.48" x2="131.64" y2="575.48" stroke="#000" stroke-width="0.9"/>
<rect x="134.29" y="583.54" width="3.5" height="9.56" fill="#fc1e10"/>
<line x1="136.04" y1="578.85" x2="136.04" y2="588.41" stroke="#111" stroke-width="0.9"/>
<line x1="134.94" y1="578.85" x2="137.14" y2="578.85" stroke="#111" stroke-width="0.9"/>
<line x1="134.94" y1="588.41" x2="137.14" y2="588.41" stroke="#111" stroke-width="0.9"/>
<text x="136.04" y="577.86" font-size="4.5" text-anchor="middle" fill="#222">*</text>
<line x1="133.29" y1="593.1" x2="133.29" y2="597.1" stroke="#101010" stroke-width="1"/>
<text x="137.49" y="600.6" font-size="7.7" text-anchor="end" fill="#000" transform="rotate(-45 137.49 600.6)" stroke="#000" stroke-width="0.16">DC-SIGN</text>
<rect x="142.56" y="574.35" width="3.5" height="18.75" fill="#000"/>
<line x1="144.31" y1="573.23" x2="144.31" y2="575.48" stroke="#000" stroke-width="0.9"/>
<line x1="143.21" y1="573.23" x2="145.41" y2="573.23" stroke="#000" stroke-width="0.9"/>
<line x1="143.21" y1="575.48" x2="145.41" y2="575.48" stroke="#000" stroke-width="0.9"/>
<rect x="148.06" y="582.79" width="3.5" height="10.31" fill="#fc1e10"/>
<line x1="149.81" y1="579.6" x2="149.81" y2="585.79" stroke="#111" stroke-width="0.9"/>
<line x1="148.71" y1="579.6" x2="150.91" y2="579.6" stroke="#111" stroke-width="0.9"/>
<line x1="148.71" y1="585.79" x2="150.91" y2="585.79" stroke="#111" stroke-width="0.9"/>
<text x="149.81" y="578.61" font-size="4.5" text-anchor="middle" fill="#222">**</text>
<line x1="147.06" y1="593.1" x2="147.06" y2="597.1" stroke="#101010" stroke-width="1"/>
<text x="151.26" y="600.6" font-size="7.7" text-anchor="end" fill="#000" transform="rotate(-45 151.26 600.6)" stroke="#000" stroke-width="0.16">LRP1</text>
<rect x="156.33" y="574.35" width="3.5" height="18.75" fill="#000"/>
<line x1="158.08" y1="573.23" x2="158.08" y2="575.48" stroke="#000" stroke-width="0.9"/>
<line x1="156.98" y1="573.23" x2="159.18" y2="573.23" stroke="#000" stroke-width="0.9"/>
<line x1="156.98" y1="575.48" x2="159.18" y2="575.48" stroke="#000" stroke-width="0.9"/>
<rect x="161.83" y="552.04" width="3.5" height="41.06" fill="#fc1e10"/>
<line x1="163.58" y1="545.48" x2="163.58" y2="558.98" stroke="#111" stroke-width="0.9"/>
<line x1="162.48" y1="545.48" x2="164.68" y2="545.48" stroke="#111" stroke-width="0.9"/>
<line x1="162.48" y1="558.98" x2="164.68" y2="558.98" stroke="#111" stroke-width="0.9"/>
<text x="163.58" y="544.49" font-size="4.5" text-anchor="middle" fill="#222">**</text>
<line x1="160.83" y1="593.1" x2="160.83" y2="597.1" stroke="#101010" stroke-width="1"/>
<text x="165.03" y="600.6" font-size="7.7" text-anchor="end" fill="#000" transform="rotate(-45 165.03 600.6)" stroke="#000" stroke-width="0.16">PDGFRA</text>
<rect x="170.1" y="574.35" width="3.5" height="18.75" fill="#000"/>
<line x1="171.85" y1="573.23" x2="171.85" y2="575.48" stroke="#000" stroke-width="0.9"/>
<line x1="170.75" y1="573.23" x2="172.95" y2="573.23" stroke="#000" stroke-width="0.9"/>
<line x1="170.75" y1="575.48" x2="172.95" y2="575.48" stroke="#000" stroke-width="0.9"/>
<rect x="175.6" y="574.91" width="3.5" height="18.19" fill="#fc1e10"/>
<line x1="177.35" y1="572.66" x2="177.35" y2="576.98" stroke="#111" stroke-width="0.9"/>
<line x1="176.25" y1="572.66" x2="178.45" y2="572.66" stroke="#111" stroke-width="0.9"/>
<line x1="176.25" y1="576.98" x2="178.45" y2="576.98" stroke="#111" stroke-width="0.9"/>
<line x1="174.6" y1="593.1" x2="174.6" y2="597.1" stroke="#101010" stroke-width="1"/>
<text x="178.8" y="600.6" font-size="7.7" text-anchor="end" fill="#000" transform="rotate(-45 178.8 600.6)" stroke="#000" stroke-width="0.16">ITGB1</text>
<rect x="183.87" y="574.35" width="3.5" height="18.75" fill="#000"/>
<line x1="185.62" y1="573.23" x2="185.62" y2="575.48" stroke="#000" stroke-width="0.9"/>
<line x1="184.52" y1="573.23" x2="186.72" y2="573.23" stroke="#000" stroke-width="0.9"/>
<line x1="184.52" y1="575.48" x2="186.72" y2="575.48" stroke="#000" stroke-width="0.9"/>
<rect x="189.37" y="553.16" width="3.5" height="39.94" fill="#fc1e10"/>
<line x1="191.12" y1="548.1" x2="191.12" y2="558.23" stroke="#111" stroke-width="0.9"/>
<line x1="190.02" y1="548.1" x2="192.22" y2="548.1" stroke="#111" stroke-width="0.9"/>
<line x1="190.02" y1="558.23" x2="192.22" y2="558.23" stroke="#111" stroke-width="0.9"/>
<text x="191.12" y="547.11" font-size="4.5" text-anchor="middle" fill="#222">**</text>
<line x1="188.37" y1="593.1" x2="188.37" y2="597.1" stroke="#101010" stroke-width="1"/>
<text x="192.57" y="600.6" font-size="7.7" text-anchor="end" fill="#000" transform="rotate(-45 192.57 600.6)" stroke="#000" stroke-width="0.16">CXADR</text>
<rect x="197.64" y="574.35" width="3.5" height="18.75" fill="#000"/>
<line x1="199.39" y1="573.23" x2="199.39" y2="575.48" stroke="#000" stroke-width="0.9"/>
<line x1="198.29" y1="573.23" x2="200.49" y2="573.23" stroke="#000" stroke-width="0.9"/>
<line x1="198.29" y1="575.48" x2="200.49" y2="575.48" stroke="#000" stroke-width="0.9"/>
<rect x="203.14" y="573.98" width="3.5" height="19.12" fill="#fc1e10"/>
<line x1="204.89" y1="572.29" x2="204.89" y2="575.85" stroke="#111" stroke-width="0.9"/>
<line x1="203.79" y1="572.29" x2="205.99" y2="572.29" stroke="#111" stroke-width="0.9"/>
<line x1="203.79" y1="575.85" x2="205.99" y2="575.85" stroke="#111" stroke-width="0.9"/>
<line x1="202.14" y1="593.1" x2="202.14" y2="597.1" stroke="#101010" stroke-width="1"/>
<text x="206.34" y="600.6" font-size="7.7" text-anchor="end" fill="#000" transform="rotate(-45 206.34 600.6)" stroke="#000" stroke-width="0.16">AAVR</text>
<rect x="211.41" y="574.35" width="3.5" height="18.75" fill="#000"/>
<line x1="213.16" y1="573.23" x2="213.16" y2="575.48" stroke="#000" stroke-width="0.9"/>
<line x1="212.06" y1="573.23" x2="214.26" y2="573.23" stroke="#000" stroke-width="0.9"/>
<line x1="212.06" y1="575.48" x2="214.26" y2="575.48" stroke="#000" stroke-width="0.9"/>
<rect x="216.91" y="583.16" width="3.5" height="9.94" fill="#fc1e10"/>
<line x1="218.66" y1="580.91" x2="218.66" y2="585.6" stroke="#111" stroke-width="0.9"/>
<line x1="217.56" y1="580.91" x2="219.76" y2="580.91" stroke="#111" stroke-width="0.9"/>
<line x1="217.56" y1="585.6" x2="219.76" y2="585.6" stroke="#111" stroke-width="0.9"/>
<text x="218.66" y="579.92" font-size="4.5" text-anchor="middle" fill="#222">**</text>
<line x1="215.91" y1="593.1" x2="215.91" y2="597.1" stroke="#101010" stroke-width="1"/>
<text x="220.11" y="600.6" font-size="7.7" text-anchor="end" fill="#000" transform="rotate(-45 220.11 600.6)" stroke="#000" stroke-width="0.16">CD155</text>
<rect x="225.18" y="574.35" width="3.5" height="18.75" fill="#000"/>
<line x1="226.93" y1="573.23" x2="226.93" y2="575.48" stroke="#000" stroke-width="0.9"/>
<line x1="225.83" y1="573.23" x2="228.03" y2="573.23" stroke="#000" stroke-width="0.9"/>
<line x1="225.83" y1="575.48" x2="228.03" y2="575.48" stroke="#000" stroke-width="0.9"/>
<rect x="230.68" y="578.1" width="3.5" height="15" fill="#fc1e10"/>
<line x1="232.43" y1="576.79" x2="232.43" y2="579.41" stroke="#111" stroke-width="0.9"/>
<line x1="231.33" y1="576.79" x2="233.53" y2="576.79" stroke="#111" stroke-width="0.9"/>
<line x1="231.33" y1="579.41" x2="233.53" y2="579.41" stroke="#111" stroke-width="0.9"/>
<line x1="229.68" y1="593.1" x2="229.68" y2="597.1" stroke="#101010" stroke-width="1"/>
<text x="233.88" y="600.6" font-size="7.7" text-anchor="end" fill="#000" transform="rotate(-45 233.88 600.6)" stroke="#000" stroke-width="0.16">MXRA8</text>
<rect x="238.95" y="574.35" width="3.5" height="18.75" fill="#000"/>
<line x1="240.7" y1="573.23" x2="240.7" y2="575.48" stroke="#000" stroke-width="0.9"/>
<line x1="239.6" y1="573.23" x2="241.8" y2="573.23" stroke="#000" stroke-width="0.9"/>
<line x1="239.6" y1="575.48" x2="241.8" y2="575.48" stroke="#000" stroke-width="0.9"/>
<rect x="244.45" y="550.54" width="3.5" height="42.56" fill="#fc1e10"/>
<line x1="246.2" y1="540.6" x2="246.2" y2="560.29" stroke="#111" stroke-width="0.9"/>
<line x1="245.1" y1="540.6" x2="247.3" y2="540.6" stroke="#111" stroke-width="0.9"/>
<line x1="245.1" y1="560.29" x2="247.3" y2="560.29" stroke="#111" stroke-width="0.9"/>
<text x="246.2" y="539.61" font-size="4.5" text-anchor="middle" fill="#222">*</text>
<line x1="243.45" y1="593.1" x2="243.45" y2="597.1" stroke="#101010" stroke-width="1"/>
<text x="247.65" y="600.6" font-size="7.7" text-anchor="end" fill="#000" transform="rotate(-45 247.65 600.6)" stroke="#000" stroke-width="0.16">NECTIN1</text>
<rect x="252.72" y="574.35" width="3.5" height="18.75" fill="#000"/>
<line x1="254.47" y1="573.23" x2="254.47" y2="575.48" stroke="#000" stroke-width="0.9"/>
<line x1="253.37" y1="573.23" x2="255.57" y2="573.23" stroke="#000" stroke-width="0.9"/>
<line x1="253.37" y1="575.48" x2="255.57" y2="575.48" stroke="#000" stroke-width="0.9"/>
<rect x="258.22" y="582.23" width="3.5" height="10.88" fill="#fc1e10"/>
<line x1="259.97" y1="579.6" x2="259.97" y2="584.66" stroke="#111" stroke-width="0.9"/>
<line x1="258.87" y1="579.6" x2="261.07" y2="579.6" stroke="#111" stroke-width="0.9"/>
<line x1="258.87" y1="584.66" x2="261.07" y2="584.66" stroke="#111" stroke-width="0.9"/>
<text x="259.97" y="578.61" font-size="4.5" text-anchor="middle" fill="#222">**</text>
<line x1="257.22" y1="593.1" x2="257.22" y2="597.1" stroke="#101010" stroke-width="1"/>
<text x="261.42" y="600.6" font-size="7.7" text-anchor="end" fill="#000" transform="rotate(-45 261.42 600.6)" stroke="#000" stroke-width="0.16">FCRN</text>
<rect x="266.49" y="574.35" width="3.5" height="18.75" fill="#000"/>
<line x1="268.24" y1="573.23" x2="268.24" y2="575.48" stroke="#000" stroke-width="0.9"/>
<line x1="267.14" y1="573.23" x2="269.34" y2="573.23" stroke="#000" stroke-width="0.9"/>
<line x1="267.14" y1="575.48" x2="269.34" y2="575.48" stroke="#000" stroke-width="0.9"/>
<rect x="271.99" y="583.16" width="3.5" height="9.94" fill="#fc1e10"/>
<line x1="273.74" y1="581.29" x2="273.74" y2="585.04" stroke="#111" stroke-width="0.9"/>
<line x1="272.64" y1="581.29" x2="274.84" y2="581.29" stroke="#111" stroke-width="0.9"/>
<line x1="272.64" y1="585.04" x2="274.84" y2="585.04" stroke="#111" stroke-width="0.9"/>
<text x="273.74" y="580.3" font-size="4.5" text-anchor="middle" fill="#222">**</text>
<line x1="270.99" y1="593.1" x2="270.99" y2="597.1" stroke="#101010" stroke-width="1"/>
<text x="275.19" y="600.6" font-size="7.7" text-anchor="end" fill="#000" transform="rotate(-45 275.19 600.6)" stroke="#000" stroke-width="0.16">EFNA2</text>
<rect x="280.26" y="574.35" width="3.5" height="18.75" fill="#000"/>
<line x1="282.01" y1="573.23" x2="282.01" y2="575.48" stroke="#000" stroke-width="0.9"/>
<line x1="280.91" y1="573.23" x2="283.11" y2="573.23" stroke="#000" stroke-width="0.9"/>
<line x1="280.91" y1="575.48" x2="283.11" y2="575.48" stroke="#000" stroke-width="0.9"/>
<rect x="285.76" y="573.79" width="3.5" height="19.31" fill="#fc1e10"/>
<line x1="287.51" y1="569.29" x2="287.51" y2="578.48" stroke="#111" stroke-width="0.9"/>
<line x1="286.41" y1="569.29" x2="288.61" y2="569.29" stroke="#111" stroke-width="0.9"/>
<line x1="286.41" y1="578.48" x2="288.61" y2="578.48" stroke="#111" stroke-width="0.9"/>
<line x1="284.76" y1="593.1" x2="284.76" y2="597.1" stroke="#101010" stroke-width="1"/>
<text x="288.96" y="600.6" font-size="7.7" text-anchor="end" fill="#000" transform="rotate(-45 288.96 600.6)" stroke="#000" stroke-width="0.16">EFNB3</text>
<rect x="294.03" y="574.35" width="3.5" height="18.75" fill="#000"/>
<line x1="295.78" y1="573.23" x2="295.78" y2="575.48" stroke="#000" stroke-width="0.9"/>
<line x1="294.68" y1="573.23" x2="296.88" y2="573.23" stroke="#000" stroke-width="0.9"/>
<line x1="294.68" y1="575.48" x2="296.88" y2="575.48" stroke="#000" stroke-width="0.9"/>
<rect x="299.53" y="582.23" width="3.5" height="10.88" fill="#fc1e10"/>
<line x1="301.28" y1="580.35" x2="301.28" y2="584.1" stroke="#111" stroke-width="0.9"/>
<line x1="300.18" y1="580.35" x2="302.38" y2="580.35" stroke="#111" stroke-width="0.9"/>
<line x1="300.18" y1="584.1" x2="302.38" y2="584.1" stroke="#111" stroke-width="0.9"/>
<text x="301.28" y="579.36" font-size="4.5" text-anchor="middle" fill="#222">**</text>
<line x1="298.53" y1="593.1" x2="298.53" y2="597.1" stroke="#101010" stroke-width="1"/>
<text x="302.73" y="600.6" font-size="7.7" text-anchor="end" fill="#000" transform="rotate(-45 302.73 600.6)" stroke="#000" stroke-width="0.16">EFNB2</text>
<rect x="307.8" y="574.35" width="3.5" height="18.75" fill="#000"/>
<line x1="309.55" y1="573.23" x2="309.55" y2="575.48" stroke="#000" stroke-width="0.9"/>
<line x1="308.45" y1="573.23" x2="310.65" y2="573.23" stroke="#000" stroke-width="0.9"/>
<line x1="308.45" y1="575.48" x2="310.65" y2="575.48" stroke="#000" stroke-width="0.9"/>
<rect x="313.3" y="575.85" width="3.5" height="17.25" fill="#fc1e10"/>
<line x1="315.05" y1="574.73" x2="315.05" y2="577.16" stroke="#111" stroke-width="0.9"/>
<line x1="313.95" y1="574.73" x2="316.15" y2="574.73" stroke="#111" stroke-width="0.9"/>
<line x1="313.95" y1="577.16" x2="316.15" y2="577.16" stroke="#111" stroke-width="0.9"/>
<line x1="312.3" y1="593.1" x2="312.3" y2="597.1" stroke="#101010" stroke-width="1"/>
<text x="316.5" y="600.6" font-size="7.7" text-anchor="end" fill="#000" transform="rotate(-45 316.5 600.6)" stroke="#000" stroke-width="0.16">NCL</text>
<rect x="321.57" y="574.35" width="3.5" height="18.75" fill="#000"/>
<line x1="323.32" y1="573.23" x2="323.32" y2="575.48" stroke="#000" stroke-width="0.9"/>
<line x1="322.22" y1="573.23" x2="324.42" y2="573.23" stroke="#000" stroke-width="0.9"/>
<line x1="322.22" y1="575.48" x2="324.42" y2="575.48" stroke="#000" stroke-width="0.9"/>
<rect x="327.07" y="550.91" width="3.5" height="42.19" fill="#fc1e10"/>
<line x1="328.82" y1="539.66" x2="328.82" y2="562.16" stroke="#111" stroke-width="0.9"/>
<line x1="327.72" y1="539.66" x2="329.92" y2="539.66" stroke="#111" stroke-width="0.9"/>
<line x1="327.72" y1="562.16" x2="329.92" y2="562.16" stroke="#111" stroke-width="0.9"/>
<text x="328.82" y="538.67" font-size="4.5" text-anchor="middle" fill="#222">*</text>
<line x1="326.07" y1="593.1" x2="326.07" y2="597.1" stroke="#101010" stroke-width="1"/>
<text x="330.27" y="600.6" font-size="7.7" text-anchor="end" fill="#000" transform="rotate(-45 330.27 600.6)" stroke="#000" stroke-width="0.16">TYRO3</text>
<line x1="30.7" y1="593.1" x2="332.8" y2="593.1" stroke="#101010" stroke-width="1.1"/>
<rect x="35.7" y="521.2" width="4.8" height="4.8" fill="#000"/>
<text x="42" y="526.28" font-size="7.5" text-anchor="start" fill="#000" stroke="#000" stroke-width="0.16">EV</text>
<rect x="54.6" y="521.25" width="4.7" height="4.7" fill="#f5313a"/>
<text x="62.2" y="526.28" font-size="7.5" text-anchor="start" fill="#000" stroke="#000" stroke-width="0.16">E2F8</text>
<text x="152.3" y="513.7" font-size="7.85" text-anchor="middle" fill="#000" stroke="#000" stroke-width="0.16">SH-SY5Y WT</text>
<line x1="378.2" y1="509.4" x2="378.2" y2="592.4" stroke="#101010" stroke-width="1"/>
<line x1="373.9" y1="591.9" x2="378.2" y2="591.9" stroke="#101010" stroke-width="1"/>
<text x="372.1" y="594.58" font-size="7.5" text-anchor="end" fill="#000" stroke="#000" stroke-width="0.16">0.0</text>
<line x1="373.9" y1="571.4" x2="378.2" y2="571.4" stroke="#101010" stroke-width="1"/>
<text x="372.1" y="574.08" font-size="7.5" text-anchor="end" fill="#000" stroke="#000" stroke-width="0.16">0.5</text>
<line x1="373.9" y1="550.9" x2="378.2" y2="550.9" stroke="#101010" stroke-width="1"/>
<text x="372.1" y="553.58" font-size="7.5" text-anchor="end" fill="#000" stroke="#000" stroke-width="0.16">1.0</text>
<line x1="373.9" y1="530.4" x2="378.2" y2="530.4" stroke="#101010" stroke-width="1"/>
<text x="372.1" y="533.08" font-size="7.5" text-anchor="end" fill="#000" stroke="#000" stroke-width="0.16">1.5</text>
<line x1="373.9" y1="509.9" x2="378.2" y2="509.9" stroke="#101010" stroke-width="1"/>
<text x="372.1" y="512.58" font-size="7.5" text-anchor="end" fill="#000" stroke="#000" stroke-width="0.16">2.0</text>
<text x="357.67" y="550.7" font-size="7.7" text-anchor="middle" fill="#000" transform="rotate(-90 357.67 550.7)" stroke="#000" stroke-width="0.16">Relative RNA level</text>
<rect x="379.4" y="550.9" width="3.5" height="41" fill="#000"/>
<line x1="381.15" y1="548.44" x2="381.15" y2="553.36" stroke="#000" stroke-width="0.9"/>
<line x1="380.05" y1="548.44" x2="382.25" y2="548.44" stroke="#000" stroke-width="0.9"/>
<line x1="380.05" y1="553.36" x2="382.25" y2="553.36" stroke="#000" stroke-width="0.9"/>
<rect x="384.4" y="568.12" width="3.5" height="23.78" fill="#fc1e10"/>
<line x1="386.15" y1="564.43" x2="386.15" y2="571.4" stroke="#111" stroke-width="0.9"/>
<line x1="385.05" y1="564.43" x2="387.25" y2="564.43" stroke="#111" stroke-width="0.9"/>
<line x1="385.05" y1="571.4" x2="387.25" y2="571.4" stroke="#111" stroke-width="0.9"/>
<text x="386.15" y="563.44" font-size="4.5" text-anchor="middle" fill="#222">**</text>
<line x1="383.65" y1="591.9" x2="383.65" y2="595.9" stroke="#101010" stroke-width="1"/>
<text x="387.25" y="600.1" font-size="7.7" text-anchor="end" fill="#000" transform="rotate(-45 387.25 600.1)" stroke="#000" stroke-width="0.16">ITGA6</text>
<rect x="393.16" y="550.9" width="3.5" height="41" fill="#000"/>
<line x1="394.91" y1="548.44" x2="394.91" y2="553.36" stroke="#000" stroke-width="0.9"/>
<line x1="393.81" y1="548.44" x2="396.01" y2="548.44" stroke="#000" stroke-width="0.9"/>
<line x1="393.81" y1="553.36" x2="396.01" y2="553.36" stroke="#000" stroke-width="0.9"/>
<rect x="398.16" y="545.98" width="3.5" height="45.92" fill="#fc1e10"/>
<line x1="399.91" y1="534.5" x2="399.91" y2="557.87" stroke="#111" stroke-width="0.9"/>
<line x1="398.81" y1="534.5" x2="401.01" y2="534.5" stroke="#111" stroke-width="0.9"/>
<line x1="398.81" y1="557.87" x2="401.01" y2="557.87" stroke="#111" stroke-width="0.9"/>
<line x1="397.41" y1="591.9" x2="397.41" y2="595.9" stroke="#101010" stroke-width="1"/>
<text x="401.01" y="600.1" font-size="7.7" text-anchor="end" fill="#000" transform="rotate(-45 401.01 600.1)" stroke="#000" stroke-width="0.16">GRP78</text>
<rect x="406.92" y="550.9" width="3.5" height="41" fill="#000"/>
<line x1="408.67" y1="548.44" x2="408.67" y2="553.36" stroke="#000" stroke-width="0.9"/>
<line x1="407.57" y1="548.44" x2="409.77" y2="548.44" stroke="#000" stroke-width="0.9"/>
<line x1="407.57" y1="553.36" x2="409.77" y2="553.36" stroke="#000" stroke-width="0.9"/>
<rect x="411.92" y="547.21" width="3.5" height="44.69" fill="#fc1e10"/>
<line x1="413.67" y1="542.29" x2="413.67" y2="552.13" stroke="#111" stroke-width="0.9"/>
<line x1="412.57" y1="542.29" x2="414.77" y2="542.29" stroke="#111" stroke-width="0.9"/>
<line x1="412.57" y1="552.13" x2="414.77" y2="552.13" stroke="#111" stroke-width="0.9"/>
<line x1="411.17" y1="591.9" x2="411.17" y2="595.9" stroke="#101010" stroke-width="1"/>
<text x="414.77" y="600.1" font-size="7.7" text-anchor="end" fill="#000" transform="rotate(-45 414.77 600.1)" stroke="#000" stroke-width="0.16">TFRC</text>
<rect x="420.68" y="550.9" width="3.5" height="41" fill="#000"/>
<line x1="422.43" y1="548.44" x2="422.43" y2="553.36" stroke="#000" stroke-width="0.9"/>
<line x1="421.33" y1="548.44" x2="423.53" y2="548.44" stroke="#000" stroke-width="0.9"/>
<line x1="421.33" y1="553.36" x2="423.53" y2="553.36" stroke="#000" stroke-width="0.9"/>
<rect x="425.68" y="550.08" width="3.5" height="41.82" fill="#fc1e10"/>
<line x1="427.43" y1="548.03" x2="427.43" y2="552.13" stroke="#111" stroke-width="0.9"/>
<line x1="426.33" y1="548.03" x2="428.53" y2="548.03" stroke="#111" stroke-width="0.9"/>
<line x1="426.33" y1="552.13" x2="428.53" y2="552.13" stroke="#111" stroke-width="0.9"/>
<line x1="424.93" y1="591.9" x2="424.93" y2="595.9" stroke="#101010" stroke-width="1"/>
<text x="428.53" y="600.1" font-size="7.7" text-anchor="end" fill="#000" transform="rotate(-45 428.53 600.1)" stroke="#000" stroke-width="0.16">CD81</text>
<rect x="434.44" y="550.9" width="3.5" height="41" fill="#000"/>
<line x1="436.19" y1="548.44" x2="436.19" y2="553.36" stroke="#000" stroke-width="0.9"/>
<line x1="435.09" y1="548.44" x2="437.29" y2="548.44" stroke="#000" stroke-width="0.9"/>
<line x1="435.09" y1="553.36" x2="437.29" y2="553.36" stroke="#000" stroke-width="0.9"/>
<rect x="439.44" y="550.49" width="3.5" height="41.41" fill="#fc1e10"/>
<line x1="441.19" y1="545.16" x2="441.19" y2="555.82" stroke="#111" stroke-width="0.9"/>
<line x1="440.09" y1="545.16" x2="442.29" y2="545.16" stroke="#111" stroke-width="0.9"/>
<line x1="440.09" y1="555.82" x2="442.29" y2="555.82" stroke="#111" stroke-width="0.9"/>
<line x1="438.69" y1="591.9" x2="438.69" y2="595.9" stroke="#101010" stroke-width="1"/>
<text x="442.29" y="600.1" font-size="7.7" text-anchor="end" fill="#000" transform="rotate(-45 442.29 600.1)" stroke="#000" stroke-width="0.16">ST3GAL4</text>
<rect x="448.2" y="550.9" width="3.5" height="41" fill="#000"/>
<line x1="449.95" y1="548.44" x2="449.95" y2="553.36" stroke="#000" stroke-width="0.9"/>
<line x1="448.85" y1="548.44" x2="451.05" y2="548.44" stroke="#000" stroke-width="0.9"/>
<line x1="448.85" y1="553.36" x2="451.05" y2="553.36" stroke="#000" stroke-width="0.9"/>
<rect x="453.2" y="551.11" width="3.5" height="40.8" fill="#fc1e10"/>
<line x1="454.95" y1="546.39" x2="454.95" y2="556.64" stroke="#111" stroke-width="0.9"/>
<line x1="453.85" y1="546.39" x2="456.05" y2="546.39" stroke="#111" stroke-width="0.9"/>
<line x1="453.85" y1="556.64" x2="456.05" y2="556.64" stroke="#111" stroke-width="0.9"/>
<line x1="452.45" y1="591.9" x2="452.45" y2="595.9" stroke="#101010" stroke-width="1"/>
<text x="456.05" y="600.1" font-size="7.7" text-anchor="end" fill="#000" transform="rotate(-45 456.05 600.1)" stroke="#000" stroke-width="0.16">PHB1</text>
<rect x="461.96" y="550.9" width="3.5" height="41" fill="#000"/>
<line x1="463.71" y1="548.44" x2="463.71" y2="553.36" stroke="#000" stroke-width="0.9"/>
<line x1="462.61" y1="548.44" x2="464.81" y2="548.44" stroke="#000" stroke-width="0.9"/>
<line x1="462.61" y1="553.36" x2="464.81" y2="553.36" stroke="#000" stroke-width="0.9"/>
<rect x="466.96" y="554.59" width="3.5" height="37.31" fill="#fc1e10"/>
<line x1="468.71" y1="548.64" x2="468.71" y2="559.92" stroke="#111" stroke-width="0.9"/>
<line x1="467.61" y1="548.64" x2="469.81" y2="548.64" stroke="#111" stroke-width="0.9"/>
<line x1="467.61" y1="559.92" x2="469.81" y2="559.92" stroke="#111" stroke-width="0.9"/>
<line x1="466.21" y1="591.9" x2="466.21" y2="595.9" stroke="#101010" stroke-width="1"/>
<text x="469.81" y="600.1" font-size="7.7" text-anchor="end" fill="#000" transform="rotate(-45 469.81 600.1)" stroke="#000" stroke-width="0.16">HSPGS</text>
<rect x="475.72" y="550.9" width="3.5" height="41" fill="#000"/>
<line x1="477.47" y1="548.44" x2="477.47" y2="553.36" stroke="#000" stroke-width="0.9"/>
<line x1="476.37" y1="548.44" x2="478.57" y2="548.44" stroke="#000" stroke-width="0.9"/>
<line x1="476.37" y1="553.36" x2="478.57" y2="553.36" stroke="#000" stroke-width="0.9"/>
<rect x="480.72" y="569.51" width="3.5" height="22.39" fill="#fc1e10"/>
<line x1="482.47" y1="564.84" x2="482.47" y2="573.86" stroke="#111" stroke-width="0.9"/>
<line x1="481.37" y1="564.84" x2="483.57" y2="564.84" stroke="#111" stroke-width="0.9"/>
<line x1="481.37" y1="573.86" x2="483.57" y2="573.86" stroke="#111" stroke-width="0.9"/>
<text x="482.47" y="563.85" font-size="4.5" text-anchor="middle" fill="#222">**</text>
<line x1="479.97" y1="591.9" x2="479.97" y2="595.9" stroke="#101010" stroke-width="1"/>
<text x="483.57" y="600.1" font-size="7.7" text-anchor="end" fill="#000" transform="rotate(-45 483.57 600.1)" stroke="#000" stroke-width="0.16">DC-SIGN</text>
<rect x="489.48" y="550.9" width="3.5" height="41" fill="#000"/>
<line x1="491.23" y1="548.44" x2="491.23" y2="553.36" stroke="#000" stroke-width="0.9"/>
<line x1="490.13" y1="548.44" x2="492.33" y2="548.44" stroke="#000" stroke-width="0.9"/>
<line x1="490.13" y1="553.36" x2="492.33" y2="553.36" stroke="#000" stroke-width="0.9"/>
<rect x="494.48" y="567.05" width="3.5" height="24.85" fill="#fc1e10"/>
<line x1="496.23" y1="563.61" x2="496.23" y2="570.99" stroke="#111" stroke-width="0.9"/>
<line x1="495.13" y1="563.61" x2="497.33" y2="563.61" stroke="#111" stroke-width="0.9"/>
<line x1="495.13" y1="570.99" x2="497.33" y2="570.99" stroke="#111" stroke-width="0.9"/>
<text x="496.23" y="562.62" font-size="4.5" text-anchor="middle" fill="#222">**</text>
<line x1="493.73" y1="591.9" x2="493.73" y2="595.9" stroke="#101010" stroke-width="1"/>
<text x="497.33" y="600.1" font-size="7.7" text-anchor="end" fill="#000" transform="rotate(-45 497.33 600.1)" stroke="#000" stroke-width="0.16">LRP1</text>
<rect x="503.24" y="550.9" width="3.5" height="41" fill="#000"/>
<line x1="504.99" y1="548.44" x2="504.99" y2="553.36" stroke="#000" stroke-width="0.9"/>
<line x1="503.89" y1="548.44" x2="506.09" y2="548.44" stroke="#000" stroke-width="0.9"/>
<line x1="503.89" y1="553.36" x2="506.09" y2="553.36" stroke="#000" stroke-width="0.9"/>
<rect x="508.24" y="549.26" width="3.5" height="42.64" fill="#fc1e10"/>
<line x1="509.99" y1="547.21" x2="509.99" y2="550.9" stroke="#111" stroke-width="0.9"/>
<line x1="508.89" y1="547.21" x2="511.09" y2="547.21" stroke="#111" stroke-width="0.9"/>
<line x1="508.89" y1="550.9" x2="511.09" y2="550.9" stroke="#111" stroke-width="0.9"/>
<line x1="507.49" y1="591.9" x2="507.49" y2="595.9" stroke="#101010" stroke-width="1"/>
<text x="511.09" y="600.1" font-size="7.7" text-anchor="end" fill="#000" transform="rotate(-45 511.09 600.1)" stroke="#000" stroke-width="0.16">PDGFRA</text>
<rect x="517" y="550.9" width="3.5" height="41" fill="#000"/>
<line x1="518.75" y1="548.44" x2="518.75" y2="553.36" stroke="#000" stroke-width="0.9"/>
<line x1="517.65" y1="548.44" x2="519.85" y2="548.44" stroke="#000" stroke-width="0.9"/>
<line x1="517.65" y1="553.36" x2="519.85" y2="553.36" stroke="#000" stroke-width="0.9"/>
<rect x="522" y="550.08" width="3.5" height="41.82" fill="#fc1e10"/>
<line x1="523.75" y1="540.24" x2="523.75" y2="560.33" stroke="#111" stroke-width="0.9"/>
<line x1="522.65" y1="540.24" x2="524.85" y2="540.24" stroke="#111" stroke-width="0.9"/>
<line x1="522.65" y1="560.33" x2="524.85" y2="560.33" stroke="#111" stroke-width="0.9"/>
<line x1="521.25" y1="591.9" x2="521.25" y2="595.9" stroke="#101010" stroke-width="1"/>
<text x="524.85" y="600.1" font-size="7.7" text-anchor="end" fill="#000" transform="rotate(-45 524.85 600.1)" stroke="#000" stroke-width="0.16">ITGB1</text>
<rect x="530.76" y="550.9" width="3.5" height="41" fill="#000"/>
<line x1="532.51" y1="548.44" x2="532.51" y2="553.36" stroke="#000" stroke-width="0.9"/>
<line x1="531.41" y1="548.44" x2="533.61" y2="548.44" stroke="#000" stroke-width="0.9"/>
<line x1="531.41" y1="553.36" x2="533.61" y2="553.36" stroke="#000" stroke-width="0.9"/>
<rect x="535.76" y="551.11" width="3.5" height="40.8" fill="#fc1e10"/>
<line x1="537.51" y1="547.21" x2="537.51" y2="555" stroke="#111" stroke-width="0.9"/>
<line x1="536.41" y1="547.21" x2="538.61" y2="547.21" stroke="#111" stroke-width="0.9"/>
<line x1="536.41" y1="555" x2="538.61" y2="555" stroke="#111" stroke-width="0.9"/>
<line x1="535.01" y1="591.9" x2="535.01" y2="595.9" stroke="#101010" stroke-width="1"/>
<text x="538.61" y="600.1" font-size="7.7" text-anchor="end" fill="#000" transform="rotate(-45 538.61 600.1)" stroke="#000" stroke-width="0.16">CXADR</text>
<rect x="544.52" y="550.9" width="3.5" height="41" fill="#000"/>
<line x1="546.27" y1="548.44" x2="546.27" y2="553.36" stroke="#000" stroke-width="0.9"/>
<line x1="545.17" y1="548.44" x2="547.37" y2="548.44" stroke="#000" stroke-width="0.9"/>
<line x1="545.17" y1="553.36" x2="547.37" y2="553.36" stroke="#000" stroke-width="0.9"/>
<rect x="549.52" y="543.11" width="3.5" height="48.79" fill="#fc1e10"/>
<line x1="551.27" y1="540.24" x2="551.27" y2="544.75" stroke="#111" stroke-width="0.9"/>
<line x1="550.17" y1="540.24" x2="552.37" y2="540.24" stroke="#111" stroke-width="0.9"/>
<line x1="550.17" y1="544.75" x2="552.37" y2="544.75" stroke="#111" stroke-width="0.9"/>
<line x1="548.77" y1="591.9" x2="548.77" y2="595.9" stroke="#101010" stroke-width="1"/>
<text x="552.37" y="600.1" font-size="7.7" text-anchor="end" fill="#000" transform="rotate(-45 552.37 600.1)" stroke="#000" stroke-width="0.16">AAVR</text>
<rect x="558.28" y="550.9" width="3.5" height="41" fill="#000"/>
<line x1="560.03" y1="548.44" x2="560.03" y2="553.36" stroke="#000" stroke-width="0.9"/>
<line x1="558.93" y1="548.44" x2="561.13" y2="548.44" stroke="#000" stroke-width="0.9"/>
<line x1="558.93" y1="553.36" x2="561.13" y2="553.36" stroke="#000" stroke-width="0.9"/>
<rect x="563.28" y="571.19" width="3.5" height="20.71" fill="#fc1e10"/>
<line x1="565.03" y1="567.71" x2="565.03" y2="574.27" stroke="#111" stroke-width="0.9"/>
<line x1="563.93" y1="567.71" x2="566.13" y2="567.71" stroke="#111" stroke-width="0.9"/>
<line x1="563.93" y1="574.27" x2="566.13" y2="574.27" stroke="#111" stroke-width="0.9"/>
<text x="565.03" y="566.72" font-size="4.5" text-anchor="middle" fill="#222">**</text>
<line x1="562.53" y1="591.9" x2="562.53" y2="595.9" stroke="#101010" stroke-width="1"/>
<text x="566.13" y="600.1" font-size="7.7" text-anchor="end" fill="#000" transform="rotate(-45 566.13 600.1)" stroke="#000" stroke-width="0.16">CD155</text>
<rect x="572.04" y="550.9" width="3.5" height="41" fill="#000"/>
<line x1="573.79" y1="548.44" x2="573.79" y2="553.36" stroke="#000" stroke-width="0.9"/>
<line x1="572.69" y1="548.44" x2="574.89" y2="548.44" stroke="#000" stroke-width="0.9"/>
<line x1="572.69" y1="553.36" x2="574.89" y2="553.36" stroke="#000" stroke-width="0.9"/>
<rect x="577.04" y="547.62" width="3.5" height="44.28" fill="#fc1e10"/>
<line x1="578.79" y1="541.88" x2="578.79" y2="552.95" stroke="#111" stroke-width="0.9"/>
<line x1="577.69" y1="541.88" x2="579.89" y2="541.88" stroke="#111" stroke-width="0.9"/>
<line x1="577.69" y1="552.95" x2="579.89" y2="552.95" stroke="#111" stroke-width="0.9"/>
<line x1="576.29" y1="591.9" x2="576.29" y2="595.9" stroke="#101010" stroke-width="1"/>
<text x="579.89" y="600.1" font-size="7.7" text-anchor="end" fill="#000" transform="rotate(-45 579.89 600.1)" stroke="#000" stroke-width="0.16">MXRA8</text>
<rect x="585.8" y="550.9" width="3.5" height="41" fill="#000"/>
<line x1="587.55" y1="548.44" x2="587.55" y2="553.36" stroke="#000" stroke-width="0.9"/>
<line x1="586.45" y1="548.44" x2="588.65" y2="548.44" stroke="#000" stroke-width="0.9"/>
<line x1="586.45" y1="553.36" x2="588.65" y2="553.36" stroke="#000" stroke-width="0.9"/>
<rect x="590.8" y="539.83" width="3.5" height="52.07" fill="#fc1e10"/>
<line x1="592.55" y1="524.25" x2="592.55" y2="555.82" stroke="#111" stroke-width="0.9"/>
<line x1="591.45" y1="524.25" x2="593.65" y2="524.25" stroke="#111" stroke-width="0.9"/>
<line x1="591.45" y1="555.82" x2="593.65" y2="555.82" stroke="#111" stroke-width="0.9"/>
<line x1="590.05" y1="591.9" x2="590.05" y2="595.9" stroke="#101010" stroke-width="1"/>
<text x="593.65" y="600.1" font-size="7.7" text-anchor="end" fill="#000" transform="rotate(-45 593.65 600.1)" stroke="#000" stroke-width="0.16">NECTIN1</text>
<rect x="599.56" y="550.9" width="3.5" height="41" fill="#000"/>
<line x1="601.31" y1="548.44" x2="601.31" y2="553.36" stroke="#000" stroke-width="0.9"/>
<line x1="600.21" y1="548.44" x2="602.41" y2="548.44" stroke="#000" stroke-width="0.9"/>
<line x1="600.21" y1="553.36" x2="602.41" y2="553.36" stroke="#000" stroke-width="0.9"/>
<rect x="604.56" y="566.48" width="3.5" height="25.42" fill="#fc1e10"/>
<line x1="606.31" y1="559.1" x2="606.31" y2="574.68" stroke="#111" stroke-width="0.9"/>
<line x1="605.21" y1="559.1" x2="607.41" y2="559.1" stroke="#111" stroke-width="0.9"/>
<line x1="605.21" y1="574.68" x2="607.41" y2="574.68" stroke="#111" stroke-width="0.9"/>
<text x="606.31" y="558.11" font-size="4.5" text-anchor="middle" fill="#222">*</text>
<line x1="603.81" y1="591.9" x2="603.81" y2="595.9" stroke="#101010" stroke-width="1"/>
<text x="607.41" y="600.1" font-size="7.7" text-anchor="end" fill="#000" transform="rotate(-45 607.41 600.1)" stroke="#000" stroke-width="0.16">FCRN</text>
<rect x="613.32" y="550.9" width="3.5" height="41" fill="#000"/>
<line x1="615.07" y1="548.44" x2="615.07" y2="553.36" stroke="#000" stroke-width="0.9"/>
<line x1="613.97" y1="548.44" x2="616.17" y2="548.44" stroke="#000" stroke-width="0.9"/>
<line x1="613.97" y1="553.36" x2="616.17" y2="553.36" stroke="#000" stroke-width="0.9"/>
<rect x="618.32" y="566.48" width="3.5" height="25.42" fill="#fc1e10"/>
<line x1="620.07" y1="561.15" x2="620.07" y2="571.4" stroke="#111" stroke-width="0.9"/>
<line x1="618.97" y1="561.15" x2="621.17" y2="561.15" stroke="#111" stroke-width="0.9"/>
<line x1="618.97" y1="571.4" x2="621.17" y2="571.4" stroke="#111" stroke-width="0.9"/>
<text x="620.07" y="560.16" font-size="4.5" text-anchor="middle" fill="#222">**</text>
<line x1="617.57" y1="591.9" x2="617.57" y2="595.9" stroke="#101010" stroke-width="1"/>
<text x="621.17" y="600.1" font-size="7.7" text-anchor="end" fill="#000" transform="rotate(-45 621.17 600.1)" stroke="#000" stroke-width="0.16">EFNA2</text>
<rect x="627.08" y="550.9" width="3.5" height="41" fill="#000"/>
<line x1="628.83" y1="548.44" x2="628.83" y2="553.36" stroke="#000" stroke-width="0.9"/>
<line x1="627.73" y1="548.44" x2="629.93" y2="548.44" stroke="#000" stroke-width="0.9"/>
<line x1="627.73" y1="553.36" x2="629.93" y2="553.36" stroke="#000" stroke-width="0.9"/>
<rect x="632.08" y="551.72" width="3.5" height="40.18" fill="#fc1e10"/>
<line x1="633.83" y1="549.26" x2="633.83" y2="553.77" stroke="#111" stroke-width="0.9"/>
<line x1="632.73" y1="549.26" x2="634.93" y2="549.26" stroke="#111" stroke-width="0.9"/>
<line x1="632.73" y1="553.77" x2="634.93" y2="553.77" stroke="#111" stroke-width="0.9"/>
<line x1="631.33" y1="591.9" x2="631.33" y2="595.9" stroke="#101010" stroke-width="1"/>
<text x="634.93" y="600.1" font-size="7.7" text-anchor="end" fill="#000" transform="rotate(-45 634.93 600.1)" stroke="#000" stroke-width="0.16">EFNB3</text>
<rect x="640.84" y="550.9" width="3.5" height="41" fill="#000"/>
<line x1="642.59" y1="548.44" x2="642.59" y2="553.36" stroke="#000" stroke-width="0.9"/>
<line x1="641.49" y1="548.44" x2="643.69" y2="548.44" stroke="#000" stroke-width="0.9"/>
<line x1="641.49" y1="553.36" x2="643.69" y2="553.36" stroke="#000" stroke-width="0.9"/>
<rect x="645.84" y="570.58" width="3.5" height="21.32" fill="#fc1e10"/>
<line x1="647.59" y1="566.07" x2="647.59" y2="575.5" stroke="#111" stroke-width="0.9"/>
<line x1="646.49" y1="566.07" x2="648.69" y2="566.07" stroke="#111" stroke-width="0.9"/>
<line x1="646.49" y1="575.5" x2="648.69" y2="575.5" stroke="#111" stroke-width="0.9"/>
<text x="647.59" y="565.08" font-size="4.5" text-anchor="middle" fill="#222">**</text>
<line x1="645.09" y1="591.9" x2="645.09" y2="595.9" stroke="#101010" stroke-width="1"/>
<text x="648.69" y="600.1" font-size="7.7" text-anchor="end" fill="#000" transform="rotate(-45 648.69 600.1)" stroke="#000" stroke-width="0.16">EFNB2</text>
<rect x="654.6" y="550.9" width="3.5" height="41" fill="#000"/>
<line x1="656.35" y1="548.44" x2="656.35" y2="553.36" stroke="#000" stroke-width="0.9"/>
<line x1="655.25" y1="548.44" x2="657.45" y2="548.44" stroke="#000" stroke-width="0.9"/>
<line x1="655.25" y1="553.36" x2="657.45" y2="553.36" stroke="#000" stroke-width="0.9"/>
<rect x="659.6" y="551.72" width="3.5" height="40.18" fill="#fc1e10"/>
<line x1="661.35" y1="547.62" x2="661.35" y2="556.23" stroke="#111" stroke-width="0.9"/>
<line x1="660.25" y1="547.62" x2="662.45" y2="547.62" stroke="#111" stroke-width="0.9"/>
<line x1="660.25" y1="556.23" x2="662.45" y2="556.23" stroke="#111" stroke-width="0.9"/>
<line x1="658.85" y1="591.9" x2="658.85" y2="595.9" stroke="#101010" stroke-width="1"/>
<text x="662.45" y="600.1" font-size="7.7" text-anchor="end" fill="#000" transform="rotate(-45 662.45 600.1)" stroke="#000" stroke-width="0.16">NCL</text>
<rect x="668.36" y="550.9" width="3.5" height="41" fill="#000"/>
<line x1="670.11" y1="548.44" x2="670.11" y2="553.36" stroke="#000" stroke-width="0.9"/>
<line x1="669.01" y1="548.44" x2="671.21" y2="548.44" stroke="#000" stroke-width="0.9"/>
<line x1="669.01" y1="553.36" x2="671.21" y2="553.36" stroke="#000" stroke-width="0.9"/>
<rect x="673.36" y="547.62" width="3.5" height="44.28" fill="#fc1e10"/>
<line x1="675.11" y1="541.47" x2="675.11" y2="554.18" stroke="#111" stroke-width="0.9"/>
<line x1="674.01" y1="541.47" x2="676.21" y2="541.47" stroke="#111" stroke-width="0.9"/>
<line x1="674.01" y1="554.18" x2="676.21" y2="554.18" stroke="#111" stroke-width="0.9"/>
<line x1="672.61" y1="591.9" x2="672.61" y2="595.9" stroke="#101010" stroke-width="1"/>
<text x="676.21" y="600.1" font-size="7.7" text-anchor="end" fill="#000" transform="rotate(-45 676.21 600.1)" stroke="#000" stroke-width="0.16">TYRO3</text>
<line x1="377.7" y1="591.9" x2="679.5" y2="591.9" stroke="#101010" stroke-width="1.1"/>
<rect x="383.5" y="511.9" width="4.8" height="4.8" fill="#000"/>
<text x="389" y="516.98" font-size="7.5" text-anchor="start" fill="#000" stroke="#000" stroke-width="0.16">EV</text>
<rect x="403" y="511.95" width="4.7" height="4.7" fill="#f5313a"/>
<text x="408.7" y="516.98" font-size="7.5" text-anchor="start" fill="#000" stroke="#000" stroke-width="0.16">E2F8</text>
<text x="499.3" y="508.5" font-size="7.75" text-anchor="middle" fill="#000" stroke="#000" stroke-width="0.16">SH-SY5Y BMAL1-KO</text>
<line x1="51.6" y1="656.3" x2="51.6" y2="738.7" stroke="#101010" stroke-width="1"/>
<line x1="47.3" y1="738.2" x2="51.6" y2="738.2" stroke="#101010" stroke-width="1"/>
<text x="45.5" y="740.88" font-size="7.5" text-anchor="end" fill="#000" stroke="#000" stroke-width="0.16">0</text>
<line x1="47.3" y1="717.85" x2="51.6" y2="717.85" stroke="#101010" stroke-width="1"/>
<text x="45.5" y="720.53" font-size="7.5" text-anchor="end" fill="#000" stroke="#000" stroke-width="0.16">1</text>
<line x1="47.3" y1="697.5" x2="51.6" y2="697.5" stroke="#101010" stroke-width="1"/>
<text x="45.5" y="700.18" font-size="7.5" text-anchor="end" fill="#000" stroke="#000" stroke-width="0.16">2</text>
<line x1="47.3" y1="677.15" x2="51.6" y2="677.15" stroke="#101010" stroke-width="1"/>
<text x="45.5" y="679.84" font-size="7.5" text-anchor="end" fill="#000" stroke="#000" stroke-width="0.16">3</text>
<line x1="47.3" y1="656.8" x2="51.6" y2="656.8" stroke="#101010" stroke-width="1"/>
<text x="45.5" y="659.49" font-size="7.5" text-anchor="end" fill="#000" stroke="#000" stroke-width="0.16">4</text>
<text x="34.66" y="697.4" font-size="7.66" text-anchor="middle" fill="#000" transform="rotate(-90 34.66 697.4)" stroke="#000" stroke-width="0.16">Relative Viral entry activity</text>
<rect x="55" y="717.85" width="7.6" height="20.35" fill="#000"/>
<line x1="58.8" y1="716.83" x2="58.8" y2="718.87" stroke="#000" stroke-width="0.9"/>
<line x1="56.8" y1="716.83" x2="60.8" y2="716.83" stroke="#000" stroke-width="0.9"/>
<line x1="56.8" y1="718.87" x2="60.8" y2="718.87" stroke="#000" stroke-width="0.9"/>
<rect x="66" y="728.84" width="7.6" height="9.36" fill="#fc1e10"/>
<line x1="69.8" y1="725.58" x2="69.8" y2="732.1" stroke="#111" stroke-width="0.9"/>
<line x1="67.8" y1="725.58" x2="71.8" y2="725.58" stroke="#111" stroke-width="0.9"/>
<line x1="67.8" y1="732.1" x2="71.8" y2="732.1" stroke="#111" stroke-width="0.9"/>
<text x="69.8" y="724.75" font-size="6.5" text-anchor="middle" fill="#222" stroke="#000" stroke-width="0.16">**</text>
<line x1="64.3" y1="738.2" x2="64.3" y2="742" stroke="#101010" stroke-width="1"/>
<text x="65.4" y="750.4" font-size="7.9" text-anchor="middle" fill="#000" stroke="#000" stroke-width="0.16">RABV</text>
<rect x="84.94" y="717.85" width="7.6" height="20.35" fill="#000"/>
<line x1="88.74" y1="716.83" x2="88.74" y2="718.87" stroke="#000" stroke-width="0.9"/>
<line x1="86.74" y1="716.83" x2="90.74" y2="716.83" stroke="#000" stroke-width="0.9"/>
<line x1="86.74" y1="718.87" x2="90.74" y2="718.87" stroke="#000" stroke-width="0.9"/>
<rect x="95.94" y="715.82" width="7.6" height="22.39" fill="#fc1e10"/>
<line x1="99.74" y1="711.13" x2="99.74" y2="720.5" stroke="#111" stroke-width="0.9"/>
<line x1="97.74" y1="711.13" x2="101.74" y2="711.13" stroke="#111" stroke-width="0.9"/>
<line x1="97.74" y1="720.5" x2="101.74" y2="720.5" stroke="#111" stroke-width="0.9"/>
<line x1="94.24" y1="738.2" x2="94.24" y2="742" stroke="#101010" stroke-width="1"/>
<text x="95.34" y="750.4" font-size="7.9" text-anchor="middle" fill="#000" stroke="#000" stroke-width="0.16">VSV</text>
<rect x="114.88" y="717.85" width="7.6" height="20.35" fill="#000"/>
<line x1="118.68" y1="716.83" x2="118.68" y2="718.87" stroke="#000" stroke-width="0.9"/>
<line x1="116.68" y1="716.83" x2="120.68" y2="716.83" stroke="#000" stroke-width="0.9"/>
<line x1="116.68" y1="718.87" x2="120.68" y2="718.87" stroke="#000" stroke-width="0.9"/>
<rect x="125.88" y="725.99" width="7.6" height="12.21" fill="#fc1e10"/>
<line x1="129.68" y1="723.96" x2="129.68" y2="728.03" stroke="#111" stroke-width="0.9"/>
<line x1="127.68" y1="723.96" x2="131.68" y2="723.96" stroke="#111" stroke-width="0.9"/>
<line x1="127.68" y1="728.03" x2="131.68" y2="728.03" stroke="#111" stroke-width="0.9"/>
<text x="129.68" y="723.12" font-size="6.5" text-anchor="middle" fill="#222" stroke="#000" stroke-width="0.16">**</text>
<line x1="124.18" y1="738.2" x2="124.18" y2="742" stroke="#101010" stroke-width="1"/>
<text x="125.28" y="750.4" font-size="7.9" text-anchor="middle" fill="#000" stroke="#000" stroke-width="0.16">EBV</text>
<rect x="144.82" y="717.85" width="7.6" height="20.35" fill="#000"/>
<line x1="148.62" y1="716.83" x2="148.62" y2="718.87" stroke="#000" stroke-width="0.9"/>
<line x1="146.62" y1="716.83" x2="150.62" y2="716.83" stroke="#000" stroke-width="0.9"/>
<line x1="146.62" y1="718.87" x2="150.62" y2="718.87" stroke="#000" stroke-width="0.9"/>
<rect x="155.82" y="715.2" width="7.6" height="23" fill="#fc1e10"/>
<line x1="159.62" y1="711.13" x2="159.62" y2="719.27" stroke="#111" stroke-width="0.9"/>
<line x1="157.62" y1="711.13" x2="161.62" y2="711.13" stroke="#111" stroke-width="0.9"/>
<line x1="157.62" y1="719.27" x2="161.62" y2="719.27" stroke="#111" stroke-width="0.9"/>
<line x1="154.12" y1="738.2" x2="154.12" y2="742" stroke="#101010" stroke-width="1"/>
<text x="155.22" y="750.4" font-size="7.9" text-anchor="middle" fill="#000" stroke="#000" stroke-width="0.16">HCMV</text>
<rect x="174.76" y="717.85" width="7.6" height="20.35" fill="#000"/>
<line x1="178.56" y1="716.83" x2="178.56" y2="718.87" stroke="#000" stroke-width="0.9"/>
<line x1="176.56" y1="716.83" x2="180.56" y2="716.83" stroke="#000" stroke-width="0.9"/>
<line x1="176.56" y1="718.87" x2="180.56" y2="718.87" stroke="#000" stroke-width="0.9"/>
<rect x="185.76" y="695.47" width="7.6" height="42.74" fill="#fc1e10"/>
<line x1="189.56" y1="688.34" x2="189.56" y2="702.59" stroke="#111" stroke-width="0.9"/>
<line x1="187.56" y1="688.34" x2="191.56" y2="688.34" stroke="#111" stroke-width="0.9"/>
<line x1="187.56" y1="702.59" x2="191.56" y2="702.59" stroke="#111" stroke-width="0.9"/>
<text x="189.56" y="687.51" font-size="6.5" text-anchor="middle" fill="#222" stroke="#000" stroke-width="0.16">**</text>
<line x1="184.06" y1="738.2" x2="184.06" y2="742" stroke="#101010" stroke-width="1"/>
<text x="185.16" y="750.4" font-size="7.9" text-anchor="middle" fill="#000" stroke="#000" stroke-width="0.16">ZIKV</text>
<rect x="204.7" y="717.85" width="7.6" height="20.35" fill="#000"/>
<line x1="208.5" y1="716.83" x2="208.5" y2="718.87" stroke="#000" stroke-width="0.9"/>
<line x1="206.5" y1="716.83" x2="210.5" y2="716.83" stroke="#000" stroke-width="0.9"/>
<line x1="206.5" y1="718.87" x2="210.5" y2="718.87" stroke="#000" stroke-width="0.9"/>
<rect x="215.7" y="726.19" width="7.6" height="12.01" fill="#fc1e10"/>
<line x1="219.5" y1="723.55" x2="219.5" y2="728.23" stroke="#111" stroke-width="0.9"/>
<line x1="217.5" y1="723.55" x2="221.5" y2="723.55" stroke="#111" stroke-width="0.9"/>
<line x1="217.5" y1="728.23" x2="221.5" y2="728.23" stroke="#111" stroke-width="0.9"/>
<text x="219.5" y="722.72" font-size="6.5" text-anchor="middle" fill="#222" stroke="#000" stroke-width="0.16">**</text>
<line x1="214" y1="738.2" x2="214" y2="742" stroke="#101010" stroke-width="1"/>
<text x="215.1" y="750.4" font-size="7.9" text-anchor="middle" fill="#000" stroke="#000" stroke-width="0.16">DENV</text>
<rect x="234.64" y="717.85" width="7.6" height="20.35" fill="#000"/>
<line x1="238.44" y1="716.83" x2="238.44" y2="718.87" stroke="#000" stroke-width="0.9"/>
<line x1="236.44" y1="716.83" x2="240.44" y2="716.83" stroke="#000" stroke-width="0.9"/>
<line x1="236.44" y1="718.87" x2="240.44" y2="718.87" stroke="#000" stroke-width="0.9"/>
<rect x="245.64" y="692.01" width="7.6" height="46.19" fill="#fc1e10"/>
<line x1="249.44" y1="685.29" x2="249.44" y2="698.92" stroke="#111" stroke-width="0.9"/>
<line x1="247.44" y1="685.29" x2="251.44" y2="685.29" stroke="#111" stroke-width="0.9"/>
<line x1="247.44" y1="698.92" x2="251.44" y2="698.92" stroke="#111" stroke-width="0.9"/>
<text x="249.44" y="684.46" font-size="6.5" text-anchor="middle" fill="#222" stroke="#000" stroke-width="0.16">*</text>
<line x1="243.94" y1="738.2" x2="243.94" y2="742" stroke="#101010" stroke-width="1"/>
<text x="245.04" y="750.4" font-size="7.9" text-anchor="middle" fill="#000" stroke="#000" stroke-width="0.16">CVB3</text>
<rect x="264.58" y="717.85" width="7.6" height="20.35" fill="#000"/>
<line x1="268.38" y1="716.83" x2="268.38" y2="718.87" stroke="#000" stroke-width="0.9"/>
<line x1="266.38" y1="716.83" x2="270.38" y2="716.83" stroke="#000" stroke-width="0.9"/>
<line x1="266.38" y1="718.87" x2="270.38" y2="718.87" stroke="#000" stroke-width="0.9"/>
<rect x="275.58" y="673.08" width="7.6" height="65.12" fill="#fc1e10"/>
<line x1="279.38" y1="661.07" x2="279.38" y2="684.88" stroke="#111" stroke-width="0.9"/>
<line x1="277.38" y1="661.07" x2="281.38" y2="661.07" stroke="#111" stroke-width="0.9"/>
<line x1="277.38" y1="684.88" x2="281.38" y2="684.88" stroke="#111" stroke-width="0.9"/>
<text x="279.38" y="660.24" font-size="6.5" text-anchor="middle" fill="#222" stroke="#000" stroke-width="0.16">*</text>
<line x1="273.88" y1="738.2" x2="273.88" y2="742" stroke="#101010" stroke-width="1"/>
<text x="274.98" y="750.4" font-size="7.9" text-anchor="middle" fill="#000" stroke="#000" stroke-width="0.16">HSV-1</text>
<line x1="51.1" y1="738.2" x2="287" y2="738.2" stroke="#101010" stroke-width="1.1"/>
<rect x="60.7" y="656.5" width="4.4" height="4.4" fill="#000"/>
<text x="66.8" y="661.38" font-size="7.5" text-anchor="start" fill="#000" stroke="#000" stroke-width="0.16">EV</text>
<rect x="82.6" y="656.55" width="4.3" height="4.3" fill="#f5313a"/>
<text x="89.6" y="661.38" font-size="7.5" text-anchor="start" fill="#000" stroke="#000" stroke-width="0.16">E2F8</text>
</svg>
</body></html>
